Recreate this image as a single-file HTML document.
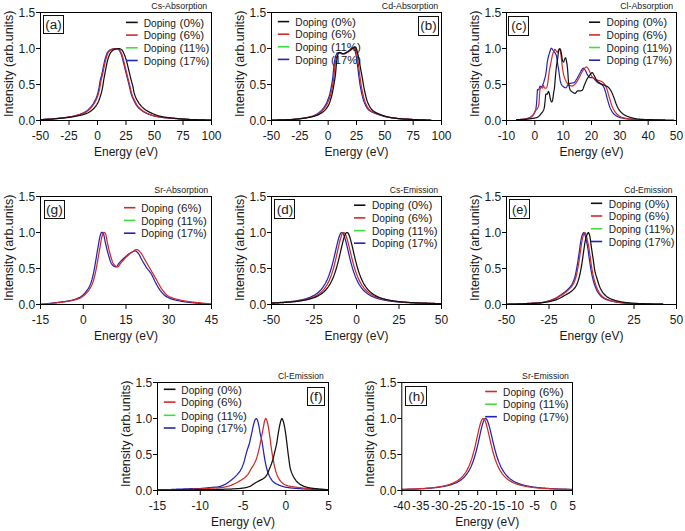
<!DOCTYPE html>
<html><head><meta charset="utf-8"><style>
html,body{margin:0;padding:0;background:#fff;}
svg{display:block;}
text{font-family:"Liberation Sans", sans-serif;fill:#1a1a1a;}
</style></head><body>
<svg width="685" height="531" viewBox="0 0 685 531">
<rect width="685" height="531" fill="#fff"/>
<polyline points="40.50,119.6 41.00,119.6 41.50,119.5 42.00,119.5 42.50,119.5 43.00,119.5 43.50,119.4 44.00,119.4 44.50,119.4 45.00,119.3 45.50,119.3 46.00,119.3 46.50,119.3 47.00,119.2 47.50,119.2 48.00,119.2 48.50,119.2 49.00,119.1 49.50,119.1 50.00,119.1 50.50,119.0 51.00,119.0 51.50,119.0 52.00,118.9 52.50,118.9 53.00,118.8 53.50,118.8 54.00,118.7 54.50,118.7 55.00,118.6 55.50,118.6 56.00,118.5 56.50,118.5 57.00,118.4 57.50,118.4 58.00,118.3 58.50,118.3 59.00,118.2 59.50,118.2 60.00,118.1 60.50,118.1 61.00,118.0 61.50,118.0 62.00,117.9 62.50,117.9 63.00,117.8 63.50,117.7 64.00,117.7 64.50,117.6 65.00,117.6 65.50,117.5 66.00,117.4 66.50,117.4 67.00,117.3 67.50,117.2 68.00,117.1 68.50,117.1 69.00,117.0 69.50,116.9 70.00,116.8 70.50,116.7 71.00,116.6 71.50,116.6 72.00,116.5 72.50,116.4 73.00,116.3 73.50,116.2 74.00,116.0 74.50,115.9 75.00,115.8 75.50,115.7 76.00,115.5 76.50,115.4 77.00,115.3 77.50,115.1 78.00,115.0 78.50,114.8 79.00,114.6 79.50,114.5 80.00,114.3 80.50,114.1 81.00,113.9 81.50,113.7 82.00,113.5 82.50,113.3 83.00,113.1 83.50,112.8 84.00,112.6 84.50,112.3 85.00,112.0 85.50,111.7 86.00,111.4 86.50,111.1 87.00,110.7 87.50,110.3 88.00,109.9 88.50,109.4 89.00,108.9 89.50,108.4 90.00,107.9 90.50,107.4 91.00,106.8 91.50,106.2 92.00,105.5 92.50,104.8 93.00,104.1 93.50,103.3 94.00,102.4 94.50,101.6 95.00,100.6 95.50,99.6 96.00,98.4 96.50,97.2 97.00,95.8 97.50,94.2 98.00,92.3 98.50,90.2 99.00,87.9 99.50,84.9 100.00,81.6 100.50,79.2 101.00,77.5 101.50,75.7 102.00,73.5 102.50,71.0 103.00,68.5 103.50,66.1 104.00,63.8 104.50,61.5 105.00,59.4 105.50,57.6 106.00,56.1 106.50,54.6 107.00,53.4 107.50,52.4 108.00,51.8 108.50,51.2 109.00,50.7 109.50,50.3 110.00,50.0 110.50,49.7 111.00,49.5 111.50,49.4 112.00,49.2 112.50,49.0 113.00,48.9 113.50,48.8 114.00,48.7 114.50,48.7 115.00,48.6 115.50,48.6 116.00,48.6 116.50,48.5 117.00,48.5 117.50,48.5 118.00,48.8 118.50,49.3 119.00,50.0 119.50,50.7 120.00,51.5 120.50,52.6 121.00,53.7 121.50,55.1 122.00,56.7 122.50,58.6 123.00,60.5 123.50,62.5 124.00,64.6 124.50,66.7 125.00,68.8 125.50,70.8 126.00,72.8 126.50,74.8 127.00,76.8 127.50,78.7 128.00,80.7 128.50,82.7 129.00,84.7 129.50,87.0 130.00,89.2 130.50,91.2 131.00,93.2 131.50,94.8 132.00,96.2 132.50,97.4 133.00,98.5 133.50,99.6 134.00,100.7 134.50,101.7 135.00,102.7 135.50,103.6 136.00,104.5 136.50,105.3 137.00,106.0 137.50,106.6 138.00,107.2 138.50,107.7 139.00,108.2 139.50,108.7 140.00,109.1 140.50,109.6 141.00,110.0 141.50,110.3 142.00,110.7 142.50,111.0 143.00,111.4 143.50,111.7 144.00,112.0 144.50,112.3 145.00,112.5 145.50,112.8 146.00,113.0 146.50,113.3 147.00,113.5 147.50,113.7 148.00,113.9 148.50,114.1 149.00,114.3 149.50,114.5 150.00,114.7 150.50,114.9 151.00,115.0 151.50,115.2 152.00,115.4 152.50,115.5 153.00,115.7 153.50,115.8 154.00,115.9 154.50,116.0 155.00,116.2 155.50,116.3 156.00,116.4 156.50,116.5 157.00,116.6 157.50,116.6 158.00,116.7 158.50,116.8 159.00,116.9 159.50,117.0 160.00,117.1 160.50,117.1 161.00,117.2 161.50,117.3 162.00,117.3 162.50,117.4 163.00,117.5 163.50,117.5 164.00,117.6 164.50,117.6 165.00,117.7 165.50,117.7 166.00,117.8 166.50,117.8 167.00,117.9 167.50,117.9 168.00,118.0 168.50,118.0 169.00,118.1 169.50,118.1 170.00,118.1 170.50,118.2 171.00,118.2 171.50,118.2 172.00,118.3 172.50,118.3 173.00,118.3 173.50,118.4 174.00,118.4 174.50,118.4 175.00,118.5 175.50,118.5 176.00,118.6 176.50,118.6 177.00,118.6 177.50,118.7 178.00,118.7 178.50,118.8 179.00,118.8 179.50,118.9 180.00,118.9 180.50,118.9 181.00,119.0 181.50,119.0 182.00,119.0 182.50,119.1 183.00,119.1 183.50,119.1 184.00,119.2 184.50,119.2 185.00,119.2 185.50,119.3 186.00,119.3 186.50,119.3 187.00,119.3 187.50,119.4 188.00,119.4 188.50,119.4 189.00,119.4 189.50,119.5 190.00,119.5 190.50,119.5 191.00,119.5 191.50,119.5 192.00,119.6 192.50,119.6 193.00,119.6 193.50,119.6 194.00,119.6 194.50,119.6 195.00,119.7 195.50,119.7 196.00,119.7 196.50,119.7 197.00,119.7 197.50,119.7 198.00,119.8 198.50,119.8 199.00,119.8 199.50,119.8 200.00,119.8 200.50,119.8 201.00,119.8 201.50,119.9 202.00,119.9 202.50,119.9 203.00,119.9 203.50,119.9 204.00,119.9 204.50,119.9 205.00,119.9 205.50,119.9 206.00,119.9 206.50,120.0 207.00,120.0 207.50,120.0 208.00,120.0 208.50,120.0 209.00,120.0 209.50,120.0 210.00,120.0 210.50,120.0 211.00,120.0" fill="none" stroke="#2424b4" stroke-width="1.25" stroke-linejoin="round"/>
<polyline points="40.70,119.6 41.20,119.6 41.70,119.5 42.20,119.5 42.70,119.5 43.20,119.5 43.70,119.4 44.20,119.4 44.70,119.4 45.20,119.3 45.70,119.3 46.20,119.3 46.70,119.3 47.20,119.2 47.70,119.2 48.20,119.2 48.70,119.2 49.20,119.1 49.70,119.1 50.20,119.1 50.70,119.0 51.20,119.0 51.70,119.0 52.20,118.9 52.70,118.9 53.20,118.8 53.70,118.8 54.20,118.7 54.70,118.7 55.20,118.6 55.70,118.6 56.20,118.5 56.70,118.5 57.20,118.4 57.70,118.4 58.20,118.3 58.70,118.3 59.20,118.2 59.70,118.2 60.20,118.1 60.70,118.1 61.20,118.0 61.70,118.0 62.20,117.9 62.70,117.9 63.20,117.8 63.70,117.7 64.20,117.7 64.70,117.6 65.20,117.6 65.70,117.5 66.20,117.4 66.70,117.4 67.20,117.3 67.70,117.2 68.20,117.1 68.70,117.1 69.20,117.0 69.70,116.9 70.20,116.8 70.70,116.7 71.20,116.6 71.70,116.6 72.20,116.5 72.70,116.4 73.20,116.3 73.70,116.2 74.20,116.0 74.70,115.9 75.20,115.8 75.70,115.7 76.20,115.5 76.70,115.4 77.20,115.2 77.70,115.1 78.20,114.9 78.70,114.8 79.20,114.6 79.70,114.5 80.20,114.3 80.70,114.1 81.20,114.0 81.70,113.8 82.20,113.6 82.70,113.4 83.20,113.2 83.70,113.0 84.20,112.8 84.70,112.6 85.20,112.3 85.70,112.1 86.20,111.8 86.70,111.5 87.20,111.2 87.70,110.8 88.20,110.4 88.70,110.0 89.20,109.5 89.70,109.0 90.20,108.5 90.70,108.0 91.20,107.5 91.70,106.9 92.20,106.3 92.70,105.7 93.20,105.0 93.70,104.2 94.20,103.4 94.70,102.6 95.20,101.7 95.70,100.8 96.20,99.8 96.70,98.7 97.20,97.4 97.70,96.1 98.20,94.5 98.70,92.7 99.20,90.7 99.70,88.4 100.20,85.6 100.70,82.2 101.20,79.6 101.70,77.8 102.20,76.1 102.70,74.0 103.20,71.5 103.70,69.0 104.20,66.6 104.70,64.3 105.20,61.9 105.70,59.8 106.20,58.0 106.70,56.4 107.20,54.9 107.70,53.6 108.20,52.6 108.70,51.9 109.20,51.3 109.70,50.8 110.20,50.4 110.70,50.1 111.20,49.8 111.70,49.6 112.20,49.4 112.70,49.2 113.20,49.1 113.70,48.9 114.20,48.8 114.70,48.8 115.20,48.7 115.70,48.6 116.20,48.6 116.70,48.6 117.20,48.5 117.70,48.5 118.20,48.5 118.70,48.9 119.20,49.4 119.70,50.1 120.20,50.8 120.70,51.7 121.20,52.8 121.70,54.0 122.20,55.4 122.70,57.1 123.20,59.0 123.70,60.9 124.20,62.9 124.70,65.0 125.20,67.1 125.70,69.2 126.20,71.2 126.70,73.2 127.20,75.2 127.70,77.2 128.20,79.1 128.70,81.1 129.20,83.1 129.70,85.2 130.20,87.4 130.70,89.6 131.20,91.6 131.70,93.5 132.20,95.1 132.70,96.4 133.20,97.6 133.70,98.7 134.20,99.8 134.70,100.9 135.20,101.9 135.70,102.9 136.20,103.8 136.70,104.7 137.20,105.4 137.70,106.1 138.20,106.7 138.70,107.3 139.20,107.8 139.70,108.3 140.20,108.8 140.70,109.2 141.20,109.6 141.70,110.0 142.20,110.4 142.70,110.8 143.20,111.1 143.70,111.4 144.20,111.7 144.70,112.0 145.20,112.3 145.70,112.6 146.20,112.8 146.70,113.1 147.20,113.3 147.70,113.5 148.20,113.8 148.70,114.0 149.20,114.2 149.70,114.4 150.20,114.6 150.70,114.8 151.20,115.0 151.70,115.1 152.20,115.3 152.70,115.5 153.20,115.6 153.70,115.8 154.20,115.9 154.70,116.0 155.20,116.2 155.70,116.3 156.20,116.4 156.70,116.5 157.20,116.6 157.70,116.6 158.20,116.7 158.70,116.8 159.20,116.9 159.70,117.0 160.20,117.1 160.70,117.1 161.20,117.2 161.70,117.3 162.20,117.3 162.70,117.4 163.20,117.5 163.70,117.5 164.20,117.6 164.70,117.6 165.20,117.7 165.70,117.7 166.20,117.8 166.70,117.8 167.20,117.9 167.70,117.9 168.20,118.0 168.70,118.0 169.20,118.1 169.70,118.1 170.20,118.1 170.70,118.2 171.20,118.2 171.70,118.2 172.20,118.3 172.70,118.3 173.20,118.3 173.70,118.4 174.20,118.4 174.70,118.4 175.20,118.5 175.70,118.5 176.20,118.6 176.70,118.6 177.20,118.6 177.70,118.7 178.20,118.7 178.70,118.8 179.20,118.8 179.70,118.9 180.20,118.9 180.70,118.9 181.20,119.0 181.70,119.0 182.20,119.0 182.70,119.1 183.20,119.1 183.70,119.1 184.20,119.2 184.70,119.2 185.20,119.2 185.70,119.3 186.20,119.3 186.70,119.3 187.20,119.3 187.70,119.4 188.20,119.4 188.70,119.4 189.20,119.4 189.70,119.5 190.20,119.5 190.70,119.5 191.20,119.5 191.70,119.5 192.20,119.6 192.70,119.6 193.20,119.6 193.70,119.6 194.20,119.6 194.70,119.6 195.20,119.7 195.70,119.7 196.20,119.7 196.70,119.7 197.20,119.7 197.70,119.7 198.20,119.8 198.70,119.8 199.20,119.8 199.70,119.8 200.20,119.8 200.70,119.8 201.20,119.8 201.70,119.9 202.20,119.9 202.70,119.9 203.20,119.9 203.70,119.9 204.20,119.9 204.70,119.9 205.20,119.9 205.70,119.9 206.20,119.9 206.70,120.0 207.20,120.0 207.70,120.0 208.20,120.0 208.70,120.0 209.20,120.0 209.70,120.0 210.20,120.0 210.70,120.0 211.20,120.0" fill="none" stroke="#d02a2a" stroke-width="1.25" stroke-linejoin="round"/>
<polyline points="40.50,119.7 41.00,119.7 41.50,119.6 42.00,119.6 42.50,119.6 43.00,119.6 43.50,119.5 44.00,119.5 44.50,119.5 45.00,119.4 45.50,119.4 46.00,119.4 46.50,119.4 47.00,119.3 47.50,119.3 48.00,119.3 48.50,119.3 49.00,119.2 49.50,119.2 50.00,119.2 50.50,119.1 51.00,119.1 51.50,119.1 52.00,119.0 52.50,119.0 53.00,119.0 53.50,118.9 54.00,118.9 54.50,118.8 55.00,118.8 55.50,118.7 56.00,118.7 56.50,118.7 57.00,118.6 57.50,118.6 58.00,118.5 58.50,118.5 59.00,118.4 59.50,118.4 60.00,118.3 60.50,118.3 61.00,118.2 61.50,118.2 62.00,118.2 62.50,118.1 63.00,118.1 63.50,118.0 64.00,118.0 64.50,117.9 65.00,117.9 65.50,117.8 66.00,117.7 66.50,117.7 67.00,117.6 67.50,117.6 68.00,117.5 68.50,117.4 69.00,117.4 69.50,117.3 70.00,117.2 70.50,117.2 71.00,117.1 71.50,117.0 72.00,116.9 72.50,116.8 73.00,116.8 73.50,116.7 74.00,116.6 74.50,116.5 75.00,116.4 75.50,116.3 76.00,116.2 76.50,116.2 77.00,116.1 77.50,116.0 78.00,115.9 78.50,115.7 79.00,115.6 79.50,115.5 80.00,115.4 80.50,115.3 81.00,115.2 81.50,115.0 82.00,114.9 82.50,114.8 83.00,114.6 83.50,114.5 84.00,114.3 84.50,114.1 85.00,114.0 85.50,113.8 86.00,113.6 86.50,113.4 87.00,113.2 87.50,113.0 88.00,112.8 88.50,112.5 89.00,112.2 89.50,111.9 90.00,111.6 90.50,111.2 91.00,110.9 91.50,110.5 92.00,110.1 92.50,109.6 93.00,109.2 93.50,108.7 94.00,108.2 94.50,107.7 95.00,107.1 95.50,106.5 96.00,105.8 96.50,105.1 97.00,104.3 97.50,103.4 98.00,102.5 98.50,101.4 99.00,100.2 99.50,98.8 100.00,97.4 100.50,95.8 101.00,94.1 101.50,92.3 102.00,90.3 102.50,87.9 103.00,84.8 103.50,81.3 104.00,78.3 104.50,75.7 105.00,73.0 105.50,70.4 106.00,67.9 106.50,65.4 107.00,62.9 107.50,60.6 108.00,58.8 108.50,57.3 109.00,55.9 109.50,54.7 110.00,53.7 110.50,52.9 111.00,52.2 111.50,51.6 112.00,51.0 112.50,50.6 113.00,50.3 113.50,50.0 114.00,49.7 114.50,49.5 115.00,49.3 115.50,49.1 116.00,49.0 116.50,48.9 117.00,48.9 117.50,48.8 118.00,48.8 118.50,48.7 119.00,48.7 119.50,48.7 120.00,48.8 120.50,49.0 121.00,49.3 121.50,49.7 122.00,50.1 122.50,50.7 123.00,51.6 123.50,52.7 124.00,53.8 124.50,54.9 125.00,56.2 125.50,57.6 126.00,59.2 126.50,60.8 127.00,62.7 127.50,64.8 128.00,66.9 128.50,69.0 129.00,71.1 129.50,73.2 130.00,75.3 130.50,77.3 131.00,79.3 131.50,81.3 132.00,83.1 132.50,84.8 133.00,86.9 133.50,89.8 134.00,92.4 134.50,94.1 135.00,95.6 135.50,96.9 136.00,98.0 136.50,99.0 137.00,100.0 137.50,100.9 138.00,101.7 138.50,102.5 139.00,103.3 139.50,104.0 140.00,104.6 140.50,105.2 141.00,105.8 141.50,106.4 142.00,106.9 142.50,107.4 143.00,107.8 143.50,108.3 144.00,108.7 144.50,109.1 145.00,109.5 145.50,109.9 146.00,110.2 146.50,110.5 147.00,110.8 147.50,111.1 148.00,111.4 148.50,111.7 149.00,111.9 149.50,112.2 150.00,112.4 150.50,112.7 151.00,112.9 151.50,113.1 152.00,113.3 152.50,113.5 153.00,113.8 153.50,114.0 154.00,114.2 154.50,114.4 155.00,114.6 155.50,114.8 156.00,115.0 156.50,115.2 157.00,115.3 157.50,115.5 158.00,115.7 158.50,115.8 159.00,116.0 159.50,116.1 160.00,116.2 160.50,116.3 161.00,116.4 161.50,116.6 162.00,116.6 162.50,116.7 163.00,116.8 163.50,116.9 164.00,117.0 164.50,117.1 165.00,117.2 165.50,117.2 166.00,117.3 166.50,117.4 167.00,117.4 167.50,117.5 168.00,117.6 168.50,117.6 169.00,117.7 169.50,117.7 170.00,117.8 170.50,117.8 171.00,117.9 171.50,118.0 172.00,118.0 172.50,118.1 173.00,118.1 173.50,118.2 174.00,118.2 174.50,118.3 175.00,118.3 175.50,118.3 176.00,118.4 176.50,118.4 177.00,118.5 177.50,118.5 178.00,118.6 178.50,118.6 179.00,118.7 179.50,118.7 180.00,118.8 180.50,118.8 181.00,118.8 181.50,118.9 182.00,118.9 182.50,119.0 183.00,119.0 183.50,119.0 184.00,119.1 184.50,119.1 185.00,119.2 185.50,119.2 186.00,119.2 186.50,119.3 187.00,119.3 187.50,119.3 188.00,119.4 188.50,119.4 189.00,119.4 189.50,119.5 190.00,119.5 190.50,119.5 191.00,119.5 191.50,119.5 192.00,119.6 192.50,119.6 193.00,119.6 193.50,119.6 194.00,119.6 194.50,119.7 195.00,119.7 195.50,119.7 196.00,119.7 196.50,119.7 197.00,119.7 197.50,119.8 198.00,119.8 198.50,119.8 199.00,119.8 199.50,119.8 200.00,119.8 200.50,119.8 201.00,119.9 201.50,119.9 202.00,119.9 202.50,119.9 203.00,119.9 203.50,119.9 204.00,119.9 204.50,119.9 205.00,119.9 205.50,120.0 206.00,120.0 206.50,120.0 207.00,120.0 207.50,120.0 208.00,120.0 208.50,120.0 209.00,120.0 209.50,120.0 210.00,120.0 210.50,120.0 211.00,120.0" fill="none" stroke="#111111" stroke-width="1.25" stroke-linejoin="round"/>
<rect x="40.5" y="12.5" width="171.0" height="108.0" fill="none" stroke="#000" stroke-width="1"/>
<line x1="36.0" y1="120.5" x2="40.5" y2="120.5" stroke="#000" stroke-width="1"/>
<text x="35.2" y="125.3" font-size="12" text-anchor="end">0.0</text>
<line x1="36.0" y1="84.5" x2="40.5" y2="84.5" stroke="#000" stroke-width="1"/>
<text x="35.2" y="89.3" font-size="12" text-anchor="end">0.5</text>
<line x1="36.0" y1="48.5" x2="40.5" y2="48.5" stroke="#000" stroke-width="1"/>
<text x="35.2" y="53.3" font-size="12" text-anchor="end">1.0</text>
<line x1="36.0" y1="12.5" x2="40.5" y2="12.5" stroke="#000" stroke-width="1"/>
<text x="35.2" y="17.3" font-size="12" text-anchor="end">1.5</text>
<line x1="40.5" y1="120.5" x2="40.5" y2="125.0" stroke="#000" stroke-width="1"/>
<text x="40.5" y="139.5" font-size="12" text-anchor="middle">-50</text>
<line x1="69.0" y1="120.5" x2="69.0" y2="125.0" stroke="#000" stroke-width="1"/>
<text x="69.0" y="139.5" font-size="12" text-anchor="middle">-25</text>
<line x1="97.5" y1="120.5" x2="97.5" y2="125.0" stroke="#000" stroke-width="1"/>
<text x="97.5" y="139.5" font-size="12" text-anchor="middle">0</text>
<line x1="125.99999999999999" y1="120.5" x2="125.99999999999999" y2="125.0" stroke="#000" stroke-width="1"/>
<text x="126.0" y="139.5" font-size="12" text-anchor="middle">25</text>
<line x1="154.5" y1="120.5" x2="154.5" y2="125.0" stroke="#000" stroke-width="1"/>
<text x="154.5" y="139.5" font-size="12" text-anchor="middle">50</text>
<line x1="183.0" y1="120.5" x2="183.0" y2="125.0" stroke="#000" stroke-width="1"/>
<text x="183.0" y="139.5" font-size="12" text-anchor="middle">75</text>
<line x1="211.49999999999997" y1="120.5" x2="211.49999999999997" y2="125.0" stroke="#000" stroke-width="1"/>
<text x="211.5" y="139.5" font-size="12" text-anchor="middle">100</text>
<text x="126.0" y="155.8" font-size="12" text-anchor="middle" textLength="64" lengthAdjust="spacingAndGlyphs">Energy (eV)</text>
<text x="0" y="0" font-size="12" text-anchor="middle" textLength="106.5" lengthAdjust="spacingAndGlyphs" transform="translate(13.0,63.8) rotate(-90)">Intensity (arb.units)</text>
<text x="151.29999999999998" y="9.1" font-size="9" textLength="56.0" lengthAdjust="spacingAndGlyphs">Cs-Absorption</text>
<rect x="43.5" y="15.5" width="20.0" height="18.0" fill="#fff" stroke="#111" stroke-width="1"/>
<text x="45.25" y="29.3" font-size="12" text-anchor="start" textLength="16.4" lengthAdjust="spacingAndGlyphs">(a)</text>
<line x1="126" y1="22.4" x2="137.7" y2="22.4" stroke="#111111" stroke-width="1.6"/>
<text x="143.7" y="26.6" font-size="10.5" text-anchor="start" textLength="32.2" lengthAdjust="spacingAndGlyphs">Doping</text>
<text x="179.5" y="26.6" font-size="10.5" text-anchor="start" textLength="24.7" lengthAdjust="spacingAndGlyphs">(0%)</text>
<line x1="126" y1="35.1" x2="137.7" y2="35.1" stroke="#d02a2a" stroke-width="1.6"/>
<text x="143.7" y="39.3" font-size="10.5" text-anchor="start" textLength="32.2" lengthAdjust="spacingAndGlyphs">Doping</text>
<text x="179.5" y="39.3" font-size="10.5" text-anchor="start" textLength="24.7" lengthAdjust="spacingAndGlyphs">(6%)</text>
<line x1="126" y1="47.8" x2="137.7" y2="47.8" stroke="#3ee03e" stroke-width="1.6"/>
<text x="143.7" y="52.0" font-size="10.5" text-anchor="start" textLength="32.2" lengthAdjust="spacingAndGlyphs">Doping</text>
<text x="179.5" y="52.0" font-size="10.5" text-anchor="start" textLength="29.8" lengthAdjust="spacingAndGlyphs">(11%)</text>
<line x1="126" y1="60.5" x2="137.7" y2="60.5" stroke="#2424b4" stroke-width="1.6"/>
<text x="143.7" y="64.7" font-size="10.5" text-anchor="start" textLength="32.2" lengthAdjust="spacingAndGlyphs">Doping</text>
<text x="179.5" y="64.7" font-size="10.5" text-anchor="start" textLength="29.8" lengthAdjust="spacingAndGlyphs">(17%)</text>
<polyline points="272.00,120.0 272.50,120.0 273.00,120.0 273.50,120.0 274.00,120.0 274.50,120.0 275.00,120.0 275.50,120.0 276.00,120.0 276.50,120.0 277.00,120.0 277.50,119.9 278.00,119.9 278.50,119.9 279.00,119.9 279.50,119.9 280.00,119.9 280.50,119.9 281.00,119.9 281.50,119.8 282.00,119.8 282.50,119.8 283.00,119.8 283.50,119.8 284.00,119.8 284.50,119.7 285.00,119.7 285.50,119.7 286.00,119.7 286.50,119.7 287.00,119.6 287.50,119.6 288.00,119.6 288.50,119.6 289.00,119.6 289.50,119.5 290.00,119.5 290.50,119.5 291.00,119.5 291.50,119.4 292.00,119.4 292.50,119.4 293.00,119.3 293.50,119.3 294.00,119.3 294.50,119.2 295.00,119.2 295.50,119.1 296.00,119.1 296.50,119.0 297.00,118.9 297.50,118.9 298.00,118.8 298.50,118.8 299.00,118.7 299.50,118.6 300.00,118.6 300.50,118.5 301.00,118.4 301.50,118.4 302.00,118.3 302.50,118.2 303.00,118.2 303.50,118.1 304.00,118.0 304.50,117.9 305.00,117.9 305.50,117.8 306.00,117.7 306.50,117.6 307.00,117.5 307.50,117.4 308.00,117.3 308.50,117.2 309.00,117.1 309.50,116.9 310.00,116.8 310.50,116.7 311.00,116.6 311.50,116.4 312.00,116.3 312.50,116.1 313.00,116.0 313.50,115.8 314.00,115.6 314.50,115.4 315.00,115.1 315.50,114.9 316.00,114.6 316.50,114.3 317.00,114.0 317.50,113.7 318.00,113.3 318.50,113.0 319.00,112.6 319.50,112.2 320.00,111.8 320.50,111.4 321.00,110.9 321.50,110.4 322.00,109.9 322.50,109.3 323.00,108.7 323.50,108.1 324.00,107.4 324.50,106.6 325.00,105.9 325.50,105.0 326.00,104.1 326.50,103.1 327.00,102.0 327.50,100.8 328.00,99.6 328.50,98.2 329.00,96.7 329.50,95.1 330.00,93.2 330.50,90.9 331.00,88.4 331.50,85.8 332.00,82.9 332.50,79.6 333.00,75.8 333.50,70.6 334.00,65.0 334.50,61.6 335.00,59.0 335.50,57.0 336.00,55.4 336.50,54.1 337.00,53.1 337.50,52.8 338.00,52.9 338.50,53.0 339.00,53.1 339.50,53.2 340.00,53.3 340.50,53.5 341.00,53.6 341.50,53.7 342.00,53.8 342.50,53.9 343.00,53.9 343.50,53.8 344.00,53.6 344.50,53.3 345.00,53.1 345.50,52.8 346.00,52.5 346.50,52.2 347.00,52.0 347.50,51.7 348.00,51.3 348.50,51.0 349.00,50.7 349.50,50.3 350.00,50.0 350.50,49.6 351.00,49.1 351.50,48.7 352.00,48.3 352.50,48.0 353.00,47.9 353.50,48.1 354.00,48.5 354.50,49.0 355.00,50.3 355.50,52.5 356.00,55.0 356.50,57.9 357.00,61.3 357.50,65.0 358.00,69.1 358.50,73.4 359.00,77.2 359.50,80.9 360.00,84.3 360.50,87.3 361.00,89.9 361.50,92.3 362.00,94.6 362.50,96.7 363.00,98.6 363.50,100.2 364.00,101.6 364.50,102.9 365.00,104.0 365.50,105.1 366.00,106.1 366.50,107.0 367.00,107.8 367.50,108.6 368.00,109.2 368.50,109.7 369.00,110.2 369.50,110.5 370.00,110.9 370.50,111.2 371.00,111.5 371.50,111.8 372.00,112.0 372.50,112.3 373.00,112.5 373.50,112.7 374.00,112.9 374.50,113.1 375.00,113.3 375.50,113.5 376.00,113.7 376.50,113.9 377.00,114.0 377.50,114.2 378.00,114.4 378.50,114.6 379.00,114.7 379.50,114.9 380.00,115.1 380.50,115.3 381.00,115.4 381.50,115.6 382.00,115.7 382.50,115.9 383.00,116.0 383.50,116.2 384.00,116.3 384.50,116.4 385.00,116.6 385.50,116.7 386.00,116.8 386.50,116.9 387.00,117.0 387.50,117.1 388.00,117.2 388.50,117.3 389.00,117.4 389.50,117.5 390.00,117.6 390.50,117.6 391.00,117.7 391.50,117.8 392.00,117.8 392.50,117.9 393.00,118.0 393.50,118.0 394.00,118.1 394.50,118.2 395.00,118.2 395.50,118.3 396.00,118.3 396.50,118.4 397.00,118.5 397.50,118.5 398.00,118.6 398.50,118.6 399.00,118.7 399.50,118.7 400.00,118.7 400.50,118.8 401.00,118.8 401.50,118.9 402.00,118.9 402.50,118.9 403.00,119.0 403.50,119.0 404.00,119.0 404.50,119.0 405.00,119.1 405.50,119.1 406.00,119.1 406.50,119.2 407.00,119.2 407.50,119.2 408.00,119.2 408.50,119.3 409.00,119.3 409.50,119.3 410.00,119.4 410.50,119.4 411.00,119.4 411.50,119.4 412.00,119.5 412.50,119.5 413.00,119.5 413.50,119.5 414.00,119.6 414.50,119.6 415.00,119.6 415.50,119.6 416.00,119.6 416.50,119.7 417.00,119.7 417.50,119.7 418.00,119.7 418.50,119.7 419.00,119.8 419.50,119.8 420.00,119.8 420.50,119.8 421.00,119.8 421.50,119.9 422.00,119.9 422.50,119.9 423.00,119.9 423.50,119.9 424.00,119.9 424.50,119.9 425.00,119.9 425.50,120.0 426.00,120.0 426.50,120.0 427.00,120.0 427.50,120.0 428.00,120.0 428.50,120.0 429.00,120.0 429.50,120.0 430.00,120.0 430.50,120.0 430.60,120.0" fill="none" stroke="#2424b4" stroke-width="1.25" stroke-linejoin="round"/>
<polyline points="273.00,120.0 273.50,120.0 274.00,120.0 274.50,120.0 275.00,120.0 275.50,120.0 276.00,120.0 276.50,120.0 277.00,120.0 277.50,120.0 278.00,120.0 278.50,119.9 279.00,119.9 279.50,119.9 280.00,119.9 280.50,119.9 281.00,119.9 281.50,119.9 282.00,119.9 282.50,119.8 283.00,119.8 283.50,119.8 284.00,119.8 284.50,119.8 285.00,119.8 285.50,119.7 286.00,119.7 286.50,119.7 287.00,119.7 287.50,119.7 288.00,119.6 288.50,119.6 289.00,119.6 289.50,119.6 290.00,119.6 290.50,119.5 291.00,119.5 291.50,119.5 292.00,119.5 292.50,119.4 293.00,119.4 293.50,119.4 294.00,119.3 294.50,119.3 295.00,119.3 295.50,119.2 296.00,119.2 296.50,119.1 297.00,119.1 297.50,119.0 298.00,118.9 298.50,118.9 299.00,118.8 299.50,118.8 300.00,118.7 300.50,118.6 301.00,118.6 301.50,118.5 302.00,118.4 302.50,118.4 303.00,118.3 303.50,118.2 304.00,118.2 304.50,118.1 305.00,118.0 305.50,117.9 306.00,117.9 306.50,117.8 307.00,117.7 307.50,117.6 308.00,117.5 308.50,117.4 309.00,117.3 309.50,117.2 310.00,117.1 310.50,116.9 311.00,116.8 311.50,116.7 312.00,116.6 312.50,116.4 313.00,116.3 313.50,116.1 314.00,116.0 314.50,115.8 315.00,115.6 315.50,115.4 316.00,115.1 316.50,114.9 317.00,114.6 317.50,114.3 318.00,114.0 318.50,113.7 319.00,113.3 319.50,113.0 320.00,112.6 320.50,112.2 321.00,111.8 321.50,111.4 322.00,110.9 322.50,110.4 323.00,109.9 323.50,109.3 324.00,108.7 324.50,108.1 325.00,107.4 325.50,106.6 326.00,105.9 326.50,105.0 327.00,104.1 327.50,103.1 328.00,102.0 328.50,100.8 329.00,99.6 329.50,98.2 330.00,96.7 330.50,95.1 331.00,93.2 331.50,90.9 332.00,88.4 332.50,85.8 333.00,82.9 333.50,79.6 334.00,75.8 334.50,70.6 335.00,65.0 335.50,61.6 336.00,59.0 336.50,57.0 337.00,55.4 337.50,54.1 338.00,53.1 338.50,52.8 339.00,52.9 339.50,53.0 340.00,53.1 340.50,53.2 341.00,53.3 341.50,53.5 342.00,53.6 342.50,53.7 343.00,53.8 343.50,53.9 344.00,53.9 344.50,53.8 345.00,53.6 345.50,53.3 346.00,53.1 346.50,52.8 347.00,52.5 347.50,52.2 348.00,52.0 348.50,51.7 349.00,51.3 349.50,51.0 350.00,50.7 350.50,50.3 351.00,50.0 351.50,49.6 352.00,49.1 352.50,48.7 353.00,48.3 353.50,48.0 354.00,47.9 354.50,48.1 355.00,48.5 355.50,49.0 356.00,50.3 356.50,52.5 357.00,55.0 357.50,57.9 358.00,61.3 358.50,65.0 359.00,69.1 359.50,73.4 360.00,77.2 360.50,80.9 361.00,84.3 361.50,87.3 362.00,89.9 362.50,92.3 363.00,94.6 363.50,96.7 364.00,98.6 364.50,100.2 365.00,101.6 365.50,102.9 366.00,104.0 366.50,105.1 367.00,106.1 367.50,107.0 368.00,107.8 368.50,108.6 369.00,109.2 369.50,109.7 370.00,110.2 370.50,110.5 371.00,110.9 371.50,111.2 372.00,111.5 372.50,111.8 373.00,112.0 373.50,112.3 374.00,112.5 374.50,112.7 375.00,112.9 375.50,113.1 376.00,113.3 376.50,113.5 377.00,113.7 377.50,113.9 378.00,114.0 378.50,114.2 379.00,114.4 379.50,114.6 380.00,114.7 380.50,114.9 381.00,115.1 381.50,115.3 382.00,115.4 382.50,115.6 383.00,115.7 383.50,115.9 384.00,116.0 384.50,116.2 385.00,116.3 385.50,116.4 386.00,116.6 386.50,116.7 387.00,116.8 387.50,116.9 388.00,117.0 388.50,117.1 389.00,117.2 389.50,117.3 390.00,117.4 390.50,117.5 391.00,117.6 391.50,117.6 392.00,117.7 392.50,117.8 393.00,117.8 393.50,117.9 394.00,118.0 394.50,118.0 395.00,118.1 395.50,118.2 396.00,118.2 396.50,118.3 397.00,118.3 397.50,118.4 398.00,118.5 398.50,118.5 399.00,118.6 399.50,118.6 400.00,118.7 400.50,118.7 401.00,118.7 401.50,118.8 402.00,118.8 402.50,118.9 403.00,118.9 403.50,118.9 404.00,119.0 404.50,119.0 405.00,119.0 405.50,119.0 406.00,119.1 406.50,119.1 407.00,119.1 407.50,119.2 408.00,119.2 408.50,119.2 409.00,119.2 409.50,119.3 410.00,119.3 410.50,119.3 411.00,119.4 411.50,119.4 412.00,119.4 412.50,119.4 413.00,119.5 413.50,119.5 414.00,119.5 414.50,119.5 415.00,119.6 415.50,119.6 416.00,119.6 416.50,119.6 417.00,119.6 417.50,119.7 418.00,119.7 418.50,119.7 419.00,119.7 419.50,119.7 420.00,119.8 420.50,119.8 421.00,119.8 421.50,119.8 422.00,119.8 422.50,119.9 423.00,119.9 423.50,119.9 424.00,119.9 424.50,119.9 425.00,119.9 425.50,119.9 426.00,119.9 426.50,120.0 427.00,120.0 427.50,120.0 428.00,120.0 428.50,120.0 429.00,120.0 429.50,120.0 430.00,120.0 430.50,120.0 431.00,120.0 431.50,120.0 431.60,120.0" fill="none" stroke="#d02a2a" stroke-width="1.25" stroke-linejoin="round"/>
<polyline points="272.00,120.0 272.50,120.0 273.00,120.0 273.50,120.0 274.00,120.0 274.50,120.0 275.00,120.0 275.50,120.0 276.00,120.0 276.50,120.0 277.00,120.0 277.50,120.0 278.00,119.9 278.50,119.9 279.00,119.9 279.50,119.9 280.00,119.9 280.50,119.9 281.00,119.9 281.50,119.9 282.00,119.9 282.50,119.9 283.00,119.8 283.50,119.8 284.00,119.8 284.50,119.8 285.00,119.8 285.50,119.8 286.00,119.8 286.50,119.7 287.00,119.7 287.50,119.7 288.00,119.7 288.50,119.7 289.00,119.7 289.50,119.6 290.00,119.6 290.50,119.6 291.00,119.6 291.50,119.6 292.00,119.5 292.50,119.5 293.00,119.5 293.50,119.4 294.00,119.4 294.50,119.3 295.00,119.3 295.50,119.3 296.00,119.2 296.50,119.2 297.00,119.1 297.50,119.1 298.00,119.0 298.50,118.9 299.00,118.9 299.50,118.8 300.00,118.8 300.50,118.7 301.00,118.7 301.50,118.6 302.00,118.5 302.50,118.5 303.00,118.4 303.50,118.3 304.00,118.3 304.50,118.2 305.00,118.1 305.50,118.0 306.00,118.0 306.50,117.9 307.00,117.8 307.50,117.7 308.00,117.6 308.50,117.5 309.00,117.4 309.50,117.3 310.00,117.2 310.50,117.1 311.00,117.0 311.50,116.9 312.00,116.8 312.50,116.6 313.00,116.5 313.50,116.4 314.00,116.3 314.50,116.1 315.00,116.0 315.50,115.8 316.00,115.7 316.50,115.5 317.00,115.3 317.50,115.1 318.00,114.8 318.50,114.6 319.00,114.4 319.50,114.1 320.00,113.8 320.50,113.5 321.00,113.2 321.50,112.9 322.00,112.6 322.50,112.2 323.00,111.9 323.50,111.5 324.00,111.1 324.50,110.6 325.00,110.1 325.50,109.6 326.00,109.0 326.50,108.3 327.00,107.6 327.50,106.9 328.00,106.0 328.50,105.1 329.00,104.1 329.50,102.9 330.00,101.5 330.50,99.9 331.00,98.3 331.50,96.5 332.00,94.6 332.50,92.3 333.00,89.7 333.50,86.9 334.00,84.1 334.50,81.2 335.00,78.0 335.50,74.1 336.00,68.4 336.50,62.8 337.00,58.7 337.50,56.1 338.00,54.3 338.50,52.9 339.00,52.4 339.50,52.5 340.00,52.6 340.50,52.7 341.00,52.9 341.50,53.1 342.00,53.3 342.50,53.5 343.00,53.6 343.50,53.7 344.00,53.7 344.50,53.5 345.00,53.3 345.50,53.1 346.00,52.8 346.50,52.6 347.00,52.3 347.50,52.0 348.00,51.7 348.50,51.3 349.00,51.0 349.50,50.6 350.00,50.2 350.50,49.8 351.00,49.5 351.50,49.1 352.00,48.7 352.50,48.3 353.00,47.9 353.50,47.6 354.00,47.3 354.50,47.2 355.00,47.3 355.50,47.6 356.00,48.2 356.50,49.0 357.00,50.4 357.50,52.7 358.00,55.0 358.50,57.2 359.00,59.5 359.50,62.0 360.00,65.0 360.50,68.2 361.00,71.1 361.50,73.5 362.00,76.1 362.50,79.1 363.00,82.2 363.50,85.2 364.00,87.9 364.50,90.3 365.00,92.6 365.50,94.9 366.00,97.0 366.50,98.9 367.00,100.5 367.50,101.9 368.00,103.1 368.50,104.2 369.00,105.3 369.50,106.2 370.00,107.1 370.50,107.9 371.00,108.6 371.50,109.3 372.00,109.8 372.50,110.3 373.00,110.7 373.50,111.1 374.00,111.4 374.50,111.8 375.00,112.1 375.50,112.4 376.00,112.7 376.50,112.9 377.00,113.2 377.50,113.4 378.00,113.6 378.50,113.8 379.00,114.0 379.50,114.2 380.00,114.4 380.50,114.6 381.00,114.8 381.50,115.0 382.00,115.2 382.50,115.4 383.00,115.6 383.50,115.7 384.00,115.9 384.50,116.1 385.00,116.2 385.50,116.4 386.00,116.5 386.50,116.6 387.00,116.8 387.50,116.9 388.00,117.0 388.50,117.1 389.00,117.2 389.50,117.3 390.00,117.4 390.50,117.5 391.00,117.6 391.50,117.6 392.00,117.7 392.50,117.8 393.00,117.9 393.50,117.9 394.00,118.0 394.50,118.1 395.00,118.1 395.50,118.2 396.00,118.3 396.50,118.3 397.00,118.4 397.50,118.4 398.00,118.5 398.50,118.6 399.00,118.6 399.50,118.7 400.00,118.7 400.50,118.7 401.00,118.8 401.50,118.8 402.00,118.9 402.50,118.9 403.00,118.9 403.50,119.0 404.00,119.0 404.50,119.0 405.00,119.1 405.50,119.1 406.00,119.1 406.50,119.1 407.00,119.2 407.50,119.2 408.00,119.2 408.50,119.3 409.00,119.3 409.50,119.3 410.00,119.3 410.50,119.4 411.00,119.4 411.50,119.4 412.00,119.5 412.50,119.5 413.00,119.5 413.50,119.5 414.00,119.6 414.50,119.6 415.00,119.6 415.50,119.6 416.00,119.6 416.50,119.7 417.00,119.7 417.50,119.7 418.00,119.7 418.50,119.7 419.00,119.8 419.50,119.8 420.00,119.8 420.50,119.8 421.00,119.8 421.50,119.9 422.00,119.9 422.50,119.9 423.00,119.9 423.50,119.9 424.00,119.9 424.50,119.9 425.00,119.9 425.50,120.0 426.00,120.0 426.50,120.0 427.00,120.0 427.50,120.0 428.00,120.0 428.50,120.0 429.00,120.0 429.50,120.0 430.00,120.0 430.50,120.0 430.60,120.0" fill="none" stroke="#111111" stroke-width="1.25" stroke-linejoin="round"/>
<rect x="271.5" y="12.5" width="170.0" height="108.0" fill="none" stroke="#000" stroke-width="1"/>
<line x1="267.0" y1="120.5" x2="271.5" y2="120.5" stroke="#000" stroke-width="1"/>
<text x="266.2" y="125.3" font-size="12" text-anchor="end">0.0</text>
<line x1="267.0" y1="84.5" x2="271.5" y2="84.5" stroke="#000" stroke-width="1"/>
<text x="266.2" y="89.3" font-size="12" text-anchor="end">0.5</text>
<line x1="267.0" y1="48.5" x2="271.5" y2="48.5" stroke="#000" stroke-width="1"/>
<text x="266.2" y="53.3" font-size="12" text-anchor="end">1.0</text>
<line x1="267.0" y1="12.5" x2="271.5" y2="12.5" stroke="#000" stroke-width="1"/>
<text x="266.2" y="17.3" font-size="12" text-anchor="end">1.5</text>
<line x1="271.5" y1="120.5" x2="271.5" y2="125.0" stroke="#000" stroke-width="1"/>
<text x="271.5" y="139.5" font-size="12" text-anchor="middle">-50</text>
<line x1="299.8333333333333" y1="120.5" x2="299.8333333333333" y2="125.0" stroke="#000" stroke-width="1"/>
<text x="299.83" y="139.5" font-size="12" text-anchor="middle">-25</text>
<line x1="328.1666666666667" y1="120.5" x2="328.1666666666667" y2="125.0" stroke="#000" stroke-width="1"/>
<text x="328.17" y="139.5" font-size="12" text-anchor="middle">0</text>
<line x1="356.5" y1="120.5" x2="356.5" y2="125.0" stroke="#000" stroke-width="1"/>
<text x="356.5" y="139.5" font-size="12" text-anchor="middle">25</text>
<line x1="384.8333333333333" y1="120.5" x2="384.8333333333333" y2="125.0" stroke="#000" stroke-width="1"/>
<text x="384.83" y="139.5" font-size="12" text-anchor="middle">50</text>
<line x1="413.16666666666663" y1="120.5" x2="413.16666666666663" y2="125.0" stroke="#000" stroke-width="1"/>
<text x="413.17" y="139.5" font-size="12" text-anchor="middle">75</text>
<line x1="441.5" y1="120.5" x2="441.5" y2="125.0" stroke="#000" stroke-width="1"/>
<text x="441.5" y="139.5" font-size="12" text-anchor="middle">100</text>
<text x="356.5" y="155.8" font-size="12" text-anchor="middle" textLength="64" lengthAdjust="spacingAndGlyphs">Energy (eV)</text>
<text x="0" y="0" font-size="12" text-anchor="middle" textLength="106.5" lengthAdjust="spacingAndGlyphs" transform="translate(244.0,63.8) rotate(-90)">Intensity (arb.units)</text>
<text x="381.8" y="9.1" font-size="9" textLength="56.4" lengthAdjust="spacingAndGlyphs">Cd-Absorption</text>
<rect x="418.5" y="16.5" width="20.0" height="19.0" fill="#fff" stroke="#111" stroke-width="1"/>
<text x="420.35" y="30.1" font-size="12" text-anchor="start" textLength="16.3" lengthAdjust="spacingAndGlyphs">(b)</text>
<line x1="277.8" y1="21.6" x2="289.2" y2="21.6" stroke="#111111" stroke-width="1.6"/>
<text x="295.3" y="25.8" font-size="10.5" text-anchor="start" textLength="32.2" lengthAdjust="spacingAndGlyphs">Doping</text>
<text x="331.1" y="25.8" font-size="10.5" text-anchor="start" textLength="24.7" lengthAdjust="spacingAndGlyphs">(0%)</text>
<line x1="277.8" y1="34.2" x2="289.2" y2="34.2" stroke="#d02a2a" stroke-width="1.6"/>
<text x="295.3" y="38.4" font-size="10.5" text-anchor="start" textLength="32.2" lengthAdjust="spacingAndGlyphs">Doping</text>
<text x="331.1" y="38.4" font-size="10.5" text-anchor="start" textLength="24.7" lengthAdjust="spacingAndGlyphs">(6%)</text>
<line x1="277.8" y1="46.8" x2="289.2" y2="46.8" stroke="#3ee03e" stroke-width="1.6"/>
<text x="295.3" y="51.0" font-size="10.5" text-anchor="start" textLength="32.2" lengthAdjust="spacingAndGlyphs">Doping</text>
<text x="331.1" y="51.0" font-size="10.5" text-anchor="start" textLength="29.8" lengthAdjust="spacingAndGlyphs">(11%)</text>
<line x1="277.8" y1="59.4" x2="289.2" y2="59.4" stroke="#2424b4" stroke-width="1.6"/>
<text x="295.3" y="63.6" font-size="10.5" text-anchor="start" textLength="32.2" lengthAdjust="spacingAndGlyphs">Doping</text>
<text x="331.1" y="63.6" font-size="10.5" text-anchor="start" textLength="29.8" lengthAdjust="spacingAndGlyphs">(17%)</text>
<polyline points="516.20,119.6 516.45,119.6 516.70,119.6 516.95,119.6 517.20,119.6 517.45,119.6 517.70,119.6 517.95,119.6 518.20,119.6 518.45,119.6 518.70,119.5 518.95,119.5 519.20,119.5 519.45,119.5 519.70,119.5 519.95,119.5 520.20,119.5 520.45,119.4 520.70,119.4 520.95,119.4 521.20,119.4 521.45,119.4 521.70,119.3 521.95,119.3 522.20,119.3 522.45,119.3 522.70,119.3 522.95,119.2 523.20,119.2 523.45,119.2 523.70,119.2 523.95,119.1 524.20,119.1 524.45,119.1 524.70,119.0 524.95,119.0 525.20,119.0 525.45,118.9 525.70,118.9 525.95,118.8 526.20,118.8 526.45,118.7 526.70,118.6 526.95,118.6 527.20,118.5 527.45,118.4 527.70,118.4 527.95,118.3 528.20,118.2 528.45,118.1 528.70,118.0 528.95,117.9 529.20,117.8 529.45,117.7 529.70,117.6 529.95,117.5 530.20,117.4 530.45,117.2 530.70,117.1 530.95,116.9 531.20,116.7 531.45,116.5 531.70,116.3 531.95,116.1 532.20,115.9 532.45,115.6 532.70,115.4 532.95,115.1 533.20,114.8 533.45,114.5 533.70,114.1 533.95,113.8 534.20,113.3 534.45,112.9 534.70,112.5 534.95,112.0 535.20,111.4 535.45,110.7 535.70,109.8 535.95,108.5 536.20,106.7 536.45,104.5 536.70,101.4 536.95,97.3 537.20,93.3 537.45,89.7 537.70,89.5 537.95,89.6 538.20,89.7 538.45,89.8 538.70,89.7 538.95,89.2 539.20,88.4 539.45,87.6 539.70,86.9 539.95,86.3 540.20,86.1 540.45,86.3 540.70,86.6 540.95,86.9 541.20,87.0 541.45,86.8 541.70,86.6 541.95,86.2 542.20,85.8 542.45,85.3 542.70,84.7 542.95,84.2 543.20,83.7 543.45,83.0 543.70,82.3 543.95,81.5 544.20,80.6 544.45,79.8 544.70,78.9 544.95,78.0 545.20,76.9 545.45,75.8 545.70,74.6 545.95,73.1 546.20,71.4 546.45,69.6 546.70,67.4 546.95,65.0 547.20,63.0 547.45,61.4 547.70,59.9 547.95,58.6 548.20,57.5 548.45,56.5 548.70,55.6 548.95,54.7 549.20,53.9 549.45,53.1 549.70,52.3 549.95,51.5 550.20,50.7 550.45,49.9 550.70,49.2 550.95,48.7 551.20,48.4 551.45,48.3 551.70,48.4 551.95,48.7 552.20,49.0 552.45,49.4 552.70,49.8 552.95,50.1 553.20,50.4 553.45,50.6 553.70,50.9 553.95,51.3 554.20,51.6 554.45,52.0 554.70,52.3 554.95,52.7 555.20,53.1 555.45,53.5 555.70,54.0 555.95,54.5 556.20,55.2 556.45,55.9 556.70,57.1 556.95,59.1 557.20,61.1 557.45,62.7 557.70,64.1 557.95,65.5 558.20,66.8 558.45,68.3 558.70,70.0 558.95,71.9 559.20,73.8 559.45,75.7 559.70,77.4 559.95,79.1 560.20,80.7 560.45,81.8 560.70,82.6 560.95,83.3 561.20,83.9 561.45,84.4 561.70,84.9 561.95,85.2 562.20,85.6 562.45,85.9 562.70,86.1 562.95,86.3 563.20,86.5 563.45,86.7 563.70,86.9 563.95,87.1 564.20,87.3 564.45,87.4 564.70,87.6 564.95,87.7 565.20,87.7 565.45,87.8 565.70,87.8 565.95,87.7 566.20,87.5 566.45,87.2 566.70,86.9 566.95,86.5 567.20,86.0 567.45,85.6 567.70,85.2 567.95,84.9 568.20,84.6 568.45,84.4 568.70,84.2 568.95,84.0 569.20,83.8 569.45,83.7 569.70,83.6 569.95,83.5 570.20,83.4 570.45,83.3 570.70,83.3 570.95,83.2 571.20,83.2 571.45,83.1 571.70,83.1 571.95,83.1 572.20,83.0 572.45,83.0 572.70,83.0 572.95,82.9 573.20,82.9 573.45,82.8 573.70,82.8 573.95,82.7 574.20,82.5 574.45,82.3 574.70,82.1 574.95,81.8 575.20,81.4 575.45,81.1 575.70,80.7 575.95,80.3 576.20,79.9 576.45,79.5 576.70,79.1 576.95,78.7 577.20,78.3 577.45,77.8 577.70,77.3 577.95,76.9 578.20,76.4 578.45,75.9 578.70,75.4 578.95,74.9 579.20,74.4 579.45,73.9 579.70,73.5 579.95,73.0 580.20,72.6 580.45,72.2 580.70,71.7 580.95,71.3 581.20,70.8 581.45,70.3 581.70,69.9 581.95,69.4 582.20,69.1 582.45,68.7 582.70,68.5 582.95,68.3 583.20,68.2 583.45,68.2 583.70,68.3 583.95,68.5 584.20,68.8 584.45,69.1 584.70,69.4 584.95,69.8 585.20,70.1 585.45,70.5 585.70,70.9 585.95,71.5 586.20,72.1 586.45,72.7 586.70,73.3 586.95,73.8 587.20,74.4 587.45,74.8 587.70,75.2 587.95,75.5 588.20,75.9 588.45,76.2 588.70,76.5 588.95,76.8 589.20,77.1 589.45,77.3 589.70,77.5 589.95,77.6 590.20,77.7 590.45,77.7 590.70,77.7 590.95,77.7 591.20,77.7 591.45,77.7 591.70,77.7 591.95,77.7 592.20,77.7 592.45,77.7 592.70,77.7 592.95,77.7 593.20,77.8 593.45,78.0 593.70,78.2 593.95,78.5 594.20,78.8 594.45,79.2 594.70,79.5 594.95,79.8 595.20,80.1 595.45,80.4 595.70,80.6 595.95,80.9 596.20,81.2 596.45,81.4 596.70,81.7 596.95,82.0 597.20,82.2 597.45,82.4 597.70,82.6 597.95,82.8 598.20,82.9 598.45,83.1 598.70,83.2 598.95,83.3 599.20,83.4 599.45,83.5 599.70,83.6 599.95,83.7 600.20,83.8 600.45,83.9 600.70,84.0 600.95,84.2 601.20,84.3 601.45,84.5 601.70,84.6 601.95,84.8 602.20,85.0 602.45,85.3 602.70,85.5 602.95,85.8 603.20,86.1 603.45,86.4 603.70,86.8 603.95,87.4 604.20,88.0 604.45,88.7 604.70,89.4 604.95,90.2 605.20,91.0 605.45,91.8 605.70,92.7 605.95,93.6 606.20,94.5 606.45,95.5 606.70,96.5 606.95,97.5 607.20,98.4 607.45,99.3 607.70,100.2 607.95,101.1 608.20,102.0 608.45,102.8 608.70,103.7 608.95,104.5 609.20,105.3 609.45,106.0 609.70,106.7 609.95,107.4 610.20,108.0 610.45,108.5 610.70,109.1 610.95,109.6 611.20,110.1 611.45,110.6 611.70,111.1 611.95,111.5 612.20,111.9 612.45,112.3 612.70,112.6 612.95,112.9 613.20,113.2 613.45,113.5 613.70,113.8 613.95,114.0 614.20,114.3 614.45,114.5 614.70,114.7 614.95,114.9 615.20,115.1 615.45,115.3 615.70,115.5 615.95,115.7 616.20,115.8 616.45,116.0 616.70,116.1 616.95,116.2 617.20,116.4 617.45,116.5 617.70,116.6 617.95,116.8 618.20,116.9 618.45,117.0 618.70,117.1 618.95,117.2 619.20,117.3 619.45,117.3 619.70,117.4 619.95,117.5 620.20,117.6 620.45,117.6 620.70,117.7 620.95,117.7 621.20,117.8 621.45,117.9 621.70,117.9 621.95,118.0 622.20,118.0 622.45,118.1 622.70,118.1 622.95,118.2 623.20,118.2 623.45,118.3 623.70,118.3 623.95,118.4 624.20,118.4 624.45,118.5 624.70,118.5 624.95,118.6 625.20,118.6 625.45,118.7 625.70,118.7 625.95,118.7 626.20,118.8 626.45,118.8 626.70,118.8 626.95,118.9 627.20,118.9 627.45,118.9 627.70,119.0 627.95,119.0 628.20,119.0 628.45,119.0 628.70,119.1 628.95,119.1 629.20,119.1 629.45,119.1 629.70,119.1 629.95,119.2 630.20,119.2 630.45,119.2 630.70,119.2 630.95,119.2 631.20,119.3 631.45,119.3 631.70,119.3 631.95,119.3 632.20,119.3 632.45,119.3 632.70,119.3 632.95,119.4 633.20,119.4 633.45,119.4 633.70,119.4 633.95,119.4 634.20,119.4 634.45,119.5 634.70,119.5 634.95,119.5 635.20,119.5 635.45,119.5 635.70,119.5 635.95,119.5 636.20,119.5 636.45,119.5 636.70,119.6 636.95,119.6 637.20,119.6 637.45,119.6 637.70,119.6 637.95,119.6 638.20,119.6 638.45,119.6 638.70,119.6 638.95,119.6 639.20,119.7 639.45,119.7 639.70,119.7 639.95,119.7 640.20,119.7 640.45,119.7 640.70,119.7 640.95,119.7 641.20,119.7 641.45,119.7 641.70,119.7 641.95,119.7 642.20,119.7 642.45,119.7 642.70,119.7 642.95,119.8 643.20,119.8 643.45,119.8 643.70,119.8 643.95,119.8 644.20,119.8 644.45,119.8 644.70,119.8 644.95,119.8 645.20,119.8 645.45,119.8 645.70,119.8 645.95,119.8 646.20,119.8 646.45,119.8 646.70,119.8 646.95,119.8 647.20,119.8 647.45,119.9 647.70,119.9 647.95,119.9 648.20,119.9 648.45,119.9 648.70,119.9 648.95,119.9 649.20,119.9 649.45,119.9 649.70,119.9 649.95,119.9 650.20,119.9 650.45,119.9 650.70,119.9 650.95,119.9 651.20,119.9 651.45,119.9 651.70,119.9 651.95,119.9 652.20,119.9 652.45,119.9 652.70,119.9 652.95,119.9 653.20,120.0 653.45,120.0 653.70,120.0 653.95,120.0 654.20,120.0 654.45,120.0 654.70,120.0 654.95,120.0 655.20,120.0 655.45,120.0 655.70,120.0 655.95,120.0 656.20,120.0 656.45,120.0 656.70,120.0 656.95,120.0 657.20,120.0 657.45,120.0 657.70,120.0 657.95,120.0 658.20,120.0 658.45,120.0 658.70,120.0 658.95,120.0 659.20,120.0 659.45,120.0 659.70,120.0 659.95,120.0 660.00,120.0" fill="none" stroke="#2424b4" stroke-width="1.2" stroke-linejoin="round"/>
<polyline points="516.20,119.6 516.45,119.6 516.70,119.6 516.95,119.6 517.20,119.6 517.45,119.6 517.70,119.6 517.95,119.6 518.20,119.6 518.45,119.6 518.70,119.6 518.95,119.5 519.20,119.5 519.45,119.5 519.70,119.5 519.95,119.5 520.20,119.5 520.45,119.5 520.70,119.5 520.95,119.4 521.20,119.4 521.45,119.4 521.70,119.4 521.95,119.4 522.20,119.4 522.45,119.3 522.70,119.3 522.95,119.3 523.20,119.3 523.45,119.3 523.70,119.2 523.95,119.2 524.20,119.2 524.45,119.2 524.70,119.1 524.95,119.1 525.20,119.1 525.45,119.0 525.70,119.0 525.95,118.9 526.20,118.9 526.45,118.8 526.70,118.8 526.95,118.7 527.20,118.7 527.45,118.6 527.70,118.5 527.95,118.4 528.20,118.4 528.45,118.3 528.70,118.2 528.95,118.1 529.20,118.0 529.45,117.9 529.70,117.8 529.95,117.7 530.20,117.6 530.45,117.5 530.70,117.4 530.95,117.2 531.20,117.0 531.45,116.9 531.70,116.7 531.95,116.5 532.20,116.3 532.45,116.0 532.70,115.8 532.95,115.4 533.20,115.0 533.45,114.5 533.70,114.0 533.95,113.4 534.20,112.9 534.45,112.3 534.70,111.8 534.95,111.4 535.20,111.0 535.45,110.7 535.70,110.4 535.95,110.2 536.20,109.9 536.45,109.7 536.70,109.4 536.95,109.1 537.20,108.7 537.45,108.4 537.70,108.1 537.95,107.6 538.20,107.1 538.45,106.5 538.70,105.5 538.95,103.6 539.20,100.5 539.45,95.4 539.70,92.0 539.95,89.7 540.20,88.6 540.45,88.2 540.70,88.0 540.95,87.7 541.20,87.6 541.45,87.5 541.70,87.5 541.95,87.7 542.20,87.9 542.45,88.1 542.70,87.7 542.95,86.4 543.20,85.4 543.45,85.4 543.70,85.9 543.95,86.6 544.20,87.3 544.45,87.9 544.70,88.1 544.95,88.1 545.20,88.1 545.45,88.1 545.70,88.1 545.95,88.1 546.20,88.1 546.45,87.9 546.70,87.4 546.95,86.8 547.20,86.1 547.45,85.1 547.70,83.4 547.95,81.4 548.20,79.5 548.45,77.5 548.70,75.6 548.95,73.8 549.20,71.9 549.45,70.3 549.70,68.9 549.95,67.6 550.20,66.4 550.45,65.2 550.70,64.0 550.95,62.7 551.20,61.4 551.45,60.0 551.70,58.7 551.95,57.4 552.20,56.2 552.45,55.2 552.70,54.3 552.95,53.5 553.20,52.8 553.45,52.1 553.70,51.5 553.95,50.9 554.20,50.3 554.45,49.7 554.70,49.3 554.95,49.3 555.20,49.6 555.45,49.9 555.70,50.2 555.95,50.6 556.20,50.9 556.45,51.3 556.70,51.7 556.95,52.0 557.20,52.2 557.45,52.1 557.70,51.8 557.95,51.4 558.20,50.8 558.45,50.3 558.70,49.9 558.95,49.6 559.20,49.3 559.45,49.0 559.70,48.8 559.95,48.8 560.20,49.8 560.45,51.5 560.70,53.3 560.95,55.0 561.20,56.9 561.45,58.9 561.70,61.0 561.95,63.4 562.20,65.7 562.45,67.8 562.70,69.5 562.95,71.1 563.20,72.5 563.45,73.8 563.70,74.8 563.95,75.8 564.20,76.7 564.45,77.5 564.70,78.2 564.95,78.9 565.20,79.5 565.45,80.0 565.70,80.6 565.95,81.1 566.20,81.6 566.45,82.0 566.70,82.4 566.95,82.8 567.20,83.2 567.45,83.5 567.70,83.8 567.95,84.2 568.20,84.5 568.45,84.8 568.70,85.1 568.95,85.3 569.20,85.5 569.45,85.6 569.70,85.6 569.95,85.7 570.20,85.7 570.45,85.8 570.70,85.8 570.95,85.8 571.20,85.8 571.45,85.9 571.70,85.9 571.95,85.9 572.20,85.9 572.45,85.9 572.70,85.9 572.95,85.8 573.20,85.7 573.45,85.6 573.70,85.4 573.95,85.2 574.20,84.9 574.45,84.7 574.70,84.4 574.95,84.2 575.20,83.9 575.45,83.6 575.70,83.3 575.95,83.0 576.20,82.7 576.45,82.3 576.70,82.0 576.95,81.6 577.20,81.2 577.45,80.8 577.70,80.3 577.95,79.9 578.20,79.5 578.45,79.1 578.70,78.6 578.95,78.2 579.20,77.8 579.45,77.3 579.70,76.8 579.95,76.2 580.20,75.7 580.45,75.1 580.70,74.6 580.95,74.0 581.20,73.5 581.45,73.0 581.70,72.5 581.95,72.0 582.20,71.6 582.45,71.2 582.70,70.8 582.95,70.5 583.20,70.1 583.45,69.8 583.70,69.4 583.95,69.1 584.20,68.8 584.45,68.4 584.70,68.2 584.95,67.9 585.20,67.6 585.45,67.4 585.70,67.3 585.95,67.1 586.20,67.0 586.45,67.0 586.70,67.0 586.95,67.2 587.20,67.4 587.45,67.6 587.70,68.0 587.95,68.4 588.20,68.8 588.45,69.2 588.70,69.6 588.95,70.0 589.20,70.5 589.45,71.0 589.70,71.6 589.95,72.2 590.20,72.9 590.45,73.5 590.70,74.2 590.95,74.8 591.20,75.3 591.45,75.7 591.70,76.1 591.95,76.4 592.20,76.7 592.45,77.0 592.70,77.2 592.95,77.5 593.20,77.7 593.45,77.9 593.70,78.1 593.95,78.3 594.20,78.4 594.45,78.6 594.70,78.7 594.95,78.9 595.20,79.0 595.45,79.2 595.70,79.3 595.95,79.4 596.20,79.5 596.45,79.6 596.70,79.7 596.95,79.8 597.20,80.0 597.45,80.1 597.70,80.2 597.95,80.3 598.20,80.4 598.45,80.4 598.70,80.5 598.95,80.6 599.20,80.7 599.45,80.7 599.70,80.8 599.95,80.9 600.20,81.0 600.45,81.0 600.70,81.1 600.95,81.2 601.20,81.3 601.45,81.4 601.70,81.6 601.95,81.7 602.20,81.9 602.45,82.0 602.70,82.2 602.95,82.4 603.20,82.7 603.45,82.9 603.70,83.2 603.95,83.4 604.20,83.7 604.45,84.1 604.70,84.4 604.95,84.8 605.20,85.3 605.45,85.8 605.70,86.2 605.95,86.8 606.20,87.3 606.45,87.9 606.70,88.5 606.95,89.2 607.20,90.0 607.45,90.8 607.70,91.6 607.95,92.5 608.20,93.5 608.45,94.4 608.70,95.3 608.95,96.2 609.20,97.0 609.45,97.8 609.70,98.7 609.95,99.5 610.20,100.4 610.45,101.3 610.70,102.1 610.95,103.0 611.20,103.7 611.45,104.5 611.70,105.2 611.95,105.9 612.20,106.5 612.45,107.1 612.70,107.6 612.95,108.2 613.20,108.7 613.45,109.2 613.70,109.7 613.95,110.1 614.20,110.5 614.45,110.9 614.70,111.3 614.95,111.6 615.20,112.0 615.45,112.3 615.70,112.6 615.95,112.9 616.20,113.2 616.45,113.5 616.70,113.8 616.95,114.1 617.20,114.3 617.45,114.5 617.70,114.8 617.95,115.0 618.20,115.2 618.45,115.4 618.70,115.5 618.95,115.7 619.20,115.9 619.45,116.1 619.70,116.3 619.95,116.4 620.20,116.6 620.45,116.7 620.70,116.9 620.95,117.0 621.20,117.1 621.45,117.2 621.70,117.3 621.95,117.4 622.20,117.5 622.45,117.5 622.70,117.6 622.95,117.7 623.20,117.7 623.45,117.8 623.70,117.9 623.95,117.9 624.20,118.0 624.45,118.0 624.70,118.1 624.95,118.2 625.20,118.2 625.45,118.3 625.70,118.3 625.95,118.4 626.20,118.4 626.45,118.5 626.70,118.5 626.95,118.5 627.20,118.6 627.45,118.6 627.70,118.7 627.95,118.7 628.20,118.7 628.45,118.8 628.70,118.8 628.95,118.8 629.20,118.9 629.45,118.9 629.70,118.9 629.95,119.0 630.20,119.0 630.45,119.0 630.70,119.0 630.95,119.1 631.20,119.1 631.45,119.1 631.70,119.1 631.95,119.1 632.20,119.2 632.45,119.2 632.70,119.2 632.95,119.2 633.20,119.2 633.45,119.3 633.70,119.3 633.95,119.3 634.20,119.3 634.45,119.3 634.70,119.3 634.95,119.4 635.20,119.4 635.45,119.4 635.70,119.4 635.95,119.4 636.20,119.4 636.45,119.5 636.70,119.5 636.95,119.5 637.20,119.5 637.45,119.5 637.70,119.5 637.95,119.5 638.20,119.6 638.45,119.6 638.70,119.6 638.95,119.6 639.20,119.6 639.45,119.6 639.70,119.6 639.95,119.6 640.20,119.7 640.45,119.7 640.70,119.7 640.95,119.7 641.20,119.7 641.45,119.7 641.70,119.7 641.95,119.7 642.20,119.7 642.45,119.7 642.70,119.7 642.95,119.8 643.20,119.8 643.45,119.8 643.70,119.8 643.95,119.8 644.20,119.8 644.45,119.8 644.70,119.8 644.95,119.8 645.20,119.8 645.45,119.8 645.70,119.8 645.95,119.8 646.20,119.8 646.45,119.8 646.70,119.8 646.95,119.8 647.20,119.8 647.45,119.8 647.70,119.8 647.95,119.8 648.20,119.9 648.45,119.9 648.70,119.9 648.95,119.9 649.20,119.9 649.45,119.9 649.70,119.9 649.95,119.9 650.20,119.9 650.45,119.9 650.70,119.9 650.95,119.9 651.20,119.9 651.45,119.9 651.70,119.9 651.95,119.9 652.20,119.9 652.45,119.9 652.70,119.9 652.95,119.9 653.20,119.9 653.45,119.9 653.70,119.9 653.95,119.9 654.20,119.9 654.45,119.9 654.70,119.9 654.95,119.9 655.20,119.9 655.45,119.9 655.70,120.0 655.95,120.0 656.20,120.0 656.45,120.0 656.70,120.0 656.95,120.0 657.20,120.0 657.45,120.0 657.70,120.0 657.95,120.0 658.20,120.0 658.45,120.0 658.70,120.0 658.95,120.0 659.20,120.0 659.45,120.0 659.70,120.0 659.95,120.0 660.20,120.0 660.45,120.0 660.70,120.0 660.95,120.0 661.20,120.0 661.45,120.0 661.70,120.0 661.95,120.0 662.20,120.0 662.45,120.0 662.70,120.0 662.95,120.0 663.20,120.0 663.45,120.0 663.70,120.0 663.95,120.0 664.20,120.0 664.45,120.0 664.70,120.0 664.95,120.0 665.00,120.0" fill="none" stroke="#d02a2a" stroke-width="1.2" stroke-linejoin="round"/>
<polyline points="516.20,119.7 516.45,119.7 516.70,119.7 516.95,119.7 517.20,119.7 517.45,119.7 517.70,119.7 517.95,119.7 518.20,119.7 518.45,119.7 518.70,119.7 518.95,119.7 519.20,119.7 519.45,119.7 519.70,119.7 519.95,119.6 520.20,119.6 520.45,119.6 520.70,119.6 520.95,119.6 521.20,119.6 521.45,119.6 521.70,119.6 521.95,119.6 522.20,119.6 522.45,119.6 522.70,119.6 522.95,119.5 523.20,119.5 523.45,119.5 523.70,119.5 523.95,119.5 524.20,119.5 524.45,119.5 524.70,119.5 524.95,119.4 525.20,119.4 525.45,119.4 525.70,119.4 525.95,119.4 526.20,119.3 526.45,119.3 526.70,119.3 526.95,119.2 527.20,119.2 527.45,119.2 527.70,119.1 527.95,119.1 528.20,119.1 528.45,119.0 528.70,119.0 528.95,119.0 529.20,118.9 529.45,118.9 529.70,118.8 529.95,118.8 530.20,118.8 530.45,118.7 530.70,118.7 530.95,118.7 531.20,118.6 531.45,118.6 531.70,118.5 531.95,118.5 532.20,118.5 532.45,118.4 532.70,118.4 532.95,118.3 533.20,118.3 533.45,118.3 533.70,118.2 533.95,118.2 534.20,118.2 534.45,118.1 534.70,118.1 534.95,118.0 535.20,118.0 535.45,117.9 535.70,117.9 535.95,117.8 536.20,117.7 536.45,117.7 536.70,117.6 536.95,117.5 537.20,117.4 537.45,117.3 537.70,117.2 537.95,117.0 538.20,116.8 538.45,116.6 538.70,116.4 538.95,116.2 539.20,116.0 539.45,115.7 539.70,115.5 539.95,115.2 540.20,114.8 540.45,114.5 540.70,114.1 540.95,113.8 541.20,113.5 541.45,113.3 541.70,113.0 541.95,112.7 542.20,112.4 542.45,112.0 542.70,111.7 542.95,111.3 543.20,110.8 543.45,110.3 543.70,109.7 543.95,108.9 544.20,107.9 544.45,106.8 544.70,104.9 544.95,102.3 545.20,99.8 545.45,97.0 545.70,94.7 545.95,94.0 546.20,94.1 546.45,94.2 546.70,94.2 546.95,94.3 547.20,94.2 547.45,93.7 547.70,93.0 547.95,92.4 548.20,91.8 548.45,91.5 548.70,91.7 548.95,92.3 549.20,93.2 549.45,94.1 549.70,95.4 549.95,96.9 550.20,98.3 550.45,99.3 550.70,100.1 550.95,100.9 551.20,101.5 551.45,101.9 551.70,102.0 551.95,101.7 552.20,101.2 552.45,100.5 552.70,99.7 552.95,98.2 553.20,96.0 553.45,93.8 553.70,92.3 553.95,91.1 554.20,89.7 554.45,88.0 554.70,85.4 554.95,82.3 555.20,79.1 555.45,76.4 555.70,73.7 555.95,71.0 556.20,68.6 556.45,66.4 556.70,64.6 556.95,63.0 557.20,61.5 557.45,60.0 557.70,58.2 557.95,56.1 558.20,53.7 558.45,51.8 558.70,50.5 558.95,49.8 559.20,49.2 559.45,48.9 559.70,48.8 559.95,48.9 560.20,49.1 560.45,49.4 560.70,50.1 560.95,51.3 561.20,52.7 561.45,54.2 561.70,55.6 561.95,57.2 562.20,58.9 562.45,60.3 562.70,61.2 562.95,61.6 563.20,61.9 563.45,62.1 563.70,61.9 563.95,61.3 564.20,60.5 564.45,59.6 564.70,59.0 564.95,58.5 565.20,58.0 565.45,57.8 565.70,58.0 565.95,58.7 566.20,59.7 566.45,60.8 566.70,62.1 566.95,63.8 567.20,65.7 567.45,68.0 567.70,70.8 567.95,74.1 568.20,78.2 568.45,81.6 568.70,83.5 568.95,85.1 569.20,86.5 569.45,87.7 569.70,88.7 569.95,89.4 570.20,89.9 570.45,90.3 570.70,90.6 570.95,90.9 571.20,91.2 571.45,91.4 571.70,91.6 571.95,91.8 572.20,91.9 572.45,92.1 572.70,92.3 572.95,92.4 573.20,92.6 573.45,92.8 573.70,92.9 573.95,93.1 574.20,93.2 574.45,93.3 574.70,93.4 574.95,93.4 575.20,93.4 575.45,93.3 575.70,93.0 575.95,92.7 576.20,92.4 576.45,92.0 576.70,91.6 576.95,91.3 577.20,91.1 577.45,90.9 577.70,90.9 577.95,90.9 578.20,90.9 578.45,90.9 578.70,90.9 578.95,90.9 579.20,90.9 579.45,90.9 579.70,90.9 579.95,90.9 580.20,90.9 580.45,90.9 580.70,90.8 580.95,90.8 581.20,90.7 581.45,90.6 581.70,90.5 581.95,90.4 582.20,90.2 582.45,90.0 582.70,89.5 582.95,89.0 583.20,88.4 583.45,87.7 583.70,87.0 583.95,86.3 584.20,85.6 584.45,85.0 584.70,84.4 584.95,83.8 585.20,83.2 585.45,82.6 585.70,82.0 585.95,81.4 586.20,80.8 586.45,80.3 586.70,79.8 586.95,79.3 587.20,78.8 587.45,78.4 587.70,78.0 587.95,77.6 588.20,77.2 588.45,76.9 588.70,76.5 588.95,76.2 589.20,75.9 589.45,75.5 589.70,75.2 589.95,74.9 590.20,74.6 590.45,74.3 590.70,74.0 590.95,73.6 591.20,73.3 591.45,73.0 591.70,72.8 591.95,72.6 592.20,72.6 592.45,72.7 592.70,73.0 592.95,73.4 593.20,73.8 593.45,74.2 593.70,74.7 593.95,75.1 594.20,75.5 594.45,76.0 594.70,76.5 594.95,77.1 595.20,77.6 595.45,78.1 595.70,78.7 595.95,79.2 596.20,79.6 596.45,80.0 596.70,80.3 596.95,80.6 597.20,80.9 597.45,81.2 597.70,81.4 597.95,81.6 598.20,81.9 598.45,82.1 598.70,82.3 598.95,82.5 599.20,82.7 599.45,82.9 599.70,83.0 599.95,83.2 600.20,83.3 600.45,83.5 600.70,83.6 600.95,83.8 601.20,83.9 601.45,84.0 601.70,84.1 601.95,84.2 602.20,84.3 602.45,84.4 602.70,84.5 602.95,84.6 603.20,84.7 603.45,84.8 603.70,84.9 603.95,85.0 604.20,85.1 604.45,85.2 604.70,85.3 604.95,85.4 605.20,85.6 605.45,85.7 605.70,85.8 605.95,85.9 606.20,86.0 606.45,86.1 606.70,86.2 606.95,86.3 607.20,86.5 607.45,86.6 607.70,86.8 607.95,87.0 608.20,87.2 608.45,87.4 608.70,87.6 608.95,87.9 609.20,88.2 609.45,88.5 609.70,88.8 609.95,89.2 610.20,89.6 610.45,89.9 610.70,90.3 610.95,90.7 611.20,91.2 611.45,91.7 611.70,92.2 611.95,92.8 612.20,93.3 612.45,93.9 612.70,94.5 612.95,95.1 613.20,95.8 613.45,96.4 613.70,97.0 613.95,97.7 614.20,98.4 614.45,99.1 614.70,99.8 614.95,100.6 615.20,101.3 615.45,102.0 615.70,102.7 615.95,103.4 616.20,104.0 616.45,104.6 616.70,105.2 616.95,105.8 617.20,106.4 617.45,107.0 617.70,107.5 617.95,108.0 618.20,108.5 618.45,108.9 618.70,109.3 618.95,109.7 619.20,110.0 619.45,110.4 619.70,110.7 619.95,111.0 620.20,111.3 620.45,111.6 620.70,111.8 620.95,112.1 621.20,112.3 621.45,112.6 621.70,112.8 621.95,113.1 622.20,113.3 622.45,113.5 622.70,113.7 622.95,113.9 623.20,114.1 623.45,114.3 623.70,114.5 623.95,114.7 624.20,114.8 624.45,115.0 624.70,115.1 624.95,115.2 625.20,115.4 625.45,115.5 625.70,115.6 625.95,115.8 626.20,115.9 626.45,116.0 626.70,116.1 626.95,116.2 627.20,116.3 627.45,116.4 627.70,116.5 627.95,116.6 628.20,116.7 628.45,116.8 628.70,116.9 628.95,117.0 629.20,117.0 629.45,117.1 629.70,117.2 629.95,117.3 630.20,117.3 630.45,117.4 630.70,117.5 630.95,117.6 631.20,117.6 631.45,117.7 631.70,117.8 631.95,117.8 632.20,117.9 632.45,118.0 632.70,118.0 632.95,118.1 633.20,118.2 633.45,118.2 633.70,118.3 633.95,118.3 634.20,118.4 634.45,118.4 634.70,118.5 634.95,118.6 635.20,118.6 635.45,118.7 635.70,118.7 635.95,118.8 636.20,118.8 636.45,118.8 636.70,118.9 636.95,118.9 637.20,119.0 637.45,119.0 637.70,119.0 637.95,119.0 638.20,119.1 638.45,119.1 638.70,119.1 638.95,119.1 639.20,119.2 639.45,119.2 639.70,119.2 639.95,119.2 640.20,119.2 640.45,119.3 640.70,119.3 640.95,119.3 641.20,119.3 641.45,119.3 641.70,119.3 641.95,119.4 642.20,119.4 642.45,119.4 642.70,119.4 642.95,119.4 643.20,119.4 643.45,119.4 643.70,119.5 643.95,119.5 644.20,119.5 644.45,119.5 644.70,119.5 644.95,119.5 645.20,119.5 645.45,119.5 645.70,119.6 645.95,119.6 646.20,119.6 646.45,119.6 646.70,119.6 646.95,119.6 647.20,119.6 647.45,119.6 647.70,119.6 647.95,119.6 648.20,119.6 648.45,119.7 648.70,119.7 648.95,119.7 649.20,119.7 649.45,119.7 649.70,119.7 649.95,119.7 650.20,119.7 650.45,119.7 650.70,119.7 650.95,119.7 651.20,119.7 651.45,119.7 651.70,119.7 651.95,119.7 652.20,119.7 652.45,119.7 652.70,119.8 652.95,119.8 653.20,119.8 653.45,119.8 653.70,119.8 653.95,119.8 654.20,119.8 654.45,119.8 654.70,119.8 654.95,119.8 655.20,119.8 655.45,119.8 655.70,119.8 655.95,119.8 656.20,119.8 656.45,119.8 656.70,119.8 656.95,119.8 657.20,119.8 657.45,119.8 657.70,119.8 657.95,119.9 658.20,119.9 658.45,119.9 658.70,119.9 658.95,119.9 659.20,119.9 659.45,119.9 659.70,119.9 659.95,119.9 660.20,119.9 660.45,119.9 660.70,119.9 660.95,119.9 661.20,119.9 661.45,119.9 661.70,119.9 661.95,119.9 662.20,119.9 662.45,119.9 662.70,119.9 662.95,119.9 663.20,119.9 663.45,119.9 663.70,119.9 663.95,119.9 664.20,119.9 664.45,119.9 664.70,119.9 664.95,119.9 665.20,120.0 665.45,120.0 665.70,120.0 665.95,120.0 666.20,120.0 666.45,120.0 666.70,120.0 666.95,120.0 667.20,120.0 667.45,120.0 667.70,120.0 667.95,120.0 668.20,120.0 668.45,120.0 668.70,120.0 668.95,120.0 669.20,120.0 669.45,120.0 669.70,120.0 669.95,120.0 670.20,120.0 670.45,120.0 670.70,120.0 670.95,120.0 671.20,120.0 671.45,120.0 671.70,120.0 671.95,120.0 672.20,120.0 672.45,120.0 672.70,120.0 672.95,120.0 673.20,120.0 673.45,120.0 673.70,120.0 673.95,120.0 674.00,120.0" fill="none" stroke="#111111" stroke-width="1.2" stroke-linejoin="round"/>
<rect x="506.5" y="12.5" width="170.0" height="108.0" fill="none" stroke="#000" stroke-width="1"/>
<line x1="502.0" y1="120.5" x2="506.5" y2="120.5" stroke="#000" stroke-width="1"/>
<text x="501.2" y="125.3" font-size="12" text-anchor="end">0.0</text>
<line x1="502.0" y1="84.5" x2="506.5" y2="84.5" stroke="#000" stroke-width="1"/>
<text x="501.2" y="89.3" font-size="12" text-anchor="end">0.5</text>
<line x1="502.0" y1="48.5" x2="506.5" y2="48.5" stroke="#000" stroke-width="1"/>
<text x="501.2" y="53.3" font-size="12" text-anchor="end">1.0</text>
<line x1="502.0" y1="12.5" x2="506.5" y2="12.5" stroke="#000" stroke-width="1"/>
<text x="501.2" y="17.3" font-size="12" text-anchor="end">1.5</text>
<line x1="506.5" y1="120.5" x2="506.5" y2="125.0" stroke="#000" stroke-width="1"/>
<text x="506.5" y="139.5" font-size="12" text-anchor="middle">-10</text>
<line x1="534.8333333333334" y1="120.5" x2="534.8333333333334" y2="125.0" stroke="#000" stroke-width="1"/>
<text x="534.83" y="139.5" font-size="12" text-anchor="middle">0</text>
<line x1="563.1666666666666" y1="120.5" x2="563.1666666666666" y2="125.0" stroke="#000" stroke-width="1"/>
<text x="563.17" y="139.5" font-size="12" text-anchor="middle">10</text>
<line x1="591.5" y1="120.5" x2="591.5" y2="125.0" stroke="#000" stroke-width="1"/>
<text x="591.5" y="139.5" font-size="12" text-anchor="middle">20</text>
<line x1="619.8333333333334" y1="120.5" x2="619.8333333333334" y2="125.0" stroke="#000" stroke-width="1"/>
<text x="619.83" y="139.5" font-size="12" text-anchor="middle">30</text>
<line x1="648.1666666666667" y1="120.5" x2="648.1666666666667" y2="125.0" stroke="#000" stroke-width="1"/>
<text x="648.17" y="139.5" font-size="12" text-anchor="middle">40</text>
<line x1="676.5" y1="120.5" x2="676.5" y2="125.0" stroke="#000" stroke-width="1"/>
<text x="676.5" y="139.5" font-size="12" text-anchor="middle">50</text>
<text x="591.5" y="155.8" font-size="12" text-anchor="middle" textLength="64" lengthAdjust="spacingAndGlyphs">Energy (eV)</text>
<text x="0" y="0" font-size="12" text-anchor="middle" textLength="106.5" lengthAdjust="spacingAndGlyphs" transform="translate(479.0,63.8) rotate(-90)">Intensity (arb.units)</text>
<text x="620.3000000000001" y="9.1" font-size="9" textLength="52.9" lengthAdjust="spacingAndGlyphs">Cl-Absorption</text>
<rect x="508.5" y="16.5" width="20.0" height="19.0" fill="#fff" stroke="#111" stroke-width="1"/>
<text x="511.25" y="30.4" font-size="12" text-anchor="start" textLength="15.3" lengthAdjust="spacingAndGlyphs">(c)</text>
<line x1="589" y1="22.2" x2="600.1" y2="22.2" stroke="#111111" stroke-width="1.6"/>
<text x="606.6" y="26.4" font-size="10.5" text-anchor="start" textLength="32.2" lengthAdjust="spacingAndGlyphs">Doping</text>
<text x="642.4" y="26.4" font-size="10.5" text-anchor="start" textLength="24.7" lengthAdjust="spacingAndGlyphs">(0%)</text>
<line x1="589" y1="34.9" x2="600.1" y2="34.9" stroke="#d02a2a" stroke-width="1.6"/>
<text x="606.6" y="39.1" font-size="10.5" text-anchor="start" textLength="32.2" lengthAdjust="spacingAndGlyphs">Doping</text>
<text x="642.4" y="39.1" font-size="10.5" text-anchor="start" textLength="24.7" lengthAdjust="spacingAndGlyphs">(6%)</text>
<line x1="589" y1="47.5" x2="600.1" y2="47.5" stroke="#3ee03e" stroke-width="1.6"/>
<text x="606.6" y="51.7" font-size="10.5" text-anchor="start" textLength="32.2" lengthAdjust="spacingAndGlyphs">Doping</text>
<text x="642.4" y="51.7" font-size="10.5" text-anchor="start" textLength="29.8" lengthAdjust="spacingAndGlyphs">(11%)</text>
<line x1="589" y1="60.2" x2="600.1" y2="60.2" stroke="#2424b4" stroke-width="1.6"/>
<text x="606.6" y="64.4" font-size="10.5" text-anchor="start" textLength="32.2" lengthAdjust="spacingAndGlyphs">Doping</text>
<text x="642.4" y="64.4" font-size="10.5" text-anchor="start" textLength="29.8" lengthAdjust="spacingAndGlyphs">(17%)</text>
<polyline points="40.50,304.3 41.00,304.3 41.50,304.2 42.00,304.2 42.50,304.1 43.00,304.1 43.50,304.0 44.00,304.0 44.50,303.9 45.00,303.9 45.50,303.8 46.00,303.8 46.50,303.7 47.00,303.7 47.50,303.6 48.00,303.5 48.50,303.5 49.00,303.4 49.50,303.4 50.00,303.3 50.50,303.3 51.00,303.2 51.50,303.1 52.00,303.1 52.50,303.0 53.00,303.0 53.50,302.9 54.00,302.8 54.50,302.8 55.00,302.7 55.50,302.7 56.00,302.6 56.50,302.5 57.00,302.5 57.50,302.4 58.00,302.4 58.50,302.3 59.00,302.2 59.50,302.2 60.00,302.1 60.50,302.1 61.00,302.0 61.50,301.9 62.00,301.9 62.50,301.8 63.00,301.7 63.50,301.7 64.00,301.6 64.50,301.5 65.00,301.5 65.50,301.4 66.00,301.3 66.50,301.2 67.00,301.2 67.50,301.1 68.00,301.0 68.50,300.9 69.00,300.8 69.50,300.7 70.00,300.6 70.50,300.5 71.00,300.4 71.50,300.3 72.00,300.2 72.50,300.0 73.00,299.9 73.50,299.8 74.00,299.6 74.50,299.5 75.00,299.3 75.50,299.1 76.00,299.0 76.50,298.8 77.00,298.6 77.50,298.4 78.00,298.2 78.50,297.9 79.00,297.7 79.50,297.5 80.00,297.2 80.50,296.9 81.00,296.6 81.50,296.2 82.00,295.8 82.50,295.4 83.00,294.9 83.50,294.5 84.00,294.0 84.50,293.4 85.00,292.9 85.50,292.3 86.00,291.7 86.50,291.1 87.00,290.5 87.50,289.7 88.00,289.0 88.50,288.1 89.00,287.2 89.50,286.2 90.00,285.2 90.50,284.0 91.00,282.7 91.50,281.1 92.00,279.4 92.50,277.5 93.00,275.5 93.50,273.4 94.00,270.9 94.50,268.1 95.00,265.1 95.50,262.2 96.00,259.3 96.50,256.2 97.00,253.2 97.50,250.2 98.00,247.3 98.50,244.4 99.00,241.4 99.50,238.6 100.00,236.4 100.50,234.8 101.00,233.3 101.50,232.4 102.00,232.3 102.50,232.6 103.00,233.1 103.50,233.8 104.00,235.5 104.50,238.1 105.00,240.8 105.50,243.3 106.00,245.4 106.50,247.5 107.00,249.6 107.50,251.5 108.00,253.4 108.50,255.2 109.00,256.8 109.50,258.5 110.00,260.1 110.50,261.6 111.00,262.8 111.50,263.8 112.00,264.4 112.50,265.0 113.00,265.5 113.50,265.9 114.00,266.3 114.50,266.5 115.00,266.7 115.50,266.8 116.00,266.9 116.50,266.7 117.00,266.2 117.50,265.5 118.00,264.7 118.50,263.9 119.00,263.2 119.50,262.7 120.00,262.1 120.50,261.6 121.00,261.0 121.50,260.5 122.00,260.0 122.50,259.5 123.00,259.0 123.50,258.5 124.00,258.1 124.50,257.6 125.00,257.2 125.50,256.7 126.00,256.3 126.50,255.9 127.00,255.5 127.50,255.0 128.00,254.6 128.50,254.2 129.00,253.8 129.50,253.5 130.00,253.2 130.50,252.8 131.00,252.6 131.50,252.3 132.00,252.0 132.50,251.8 133.00,251.5 133.50,251.3 134.00,251.1 134.50,251.0 135.00,250.9 135.50,250.9 136.00,251.1 136.50,251.5 137.00,251.9 137.50,252.4 138.00,253.0 138.50,253.6 139.00,254.3 139.50,255.2 140.00,256.1 140.50,257.2 141.00,258.2 141.50,259.2 142.00,260.1 142.50,261.0 143.00,261.8 143.50,262.7 144.00,263.5 144.50,264.4 145.00,265.2 145.50,266.0 146.00,266.8 146.50,267.6 147.00,268.3 147.50,268.9 148.00,269.6 148.50,270.2 149.00,270.8 149.50,271.4 150.00,272.1 150.50,272.7 151.00,273.5 151.50,274.3 152.00,275.2 152.50,276.2 153.00,277.3 153.50,278.3 154.00,279.4 154.50,280.5 155.00,281.5 155.50,282.5 156.00,283.4 156.50,284.4 157.00,285.3 157.50,286.2 158.00,287.0 158.50,287.9 159.00,288.7 159.50,289.4 160.00,290.1 160.50,290.8 161.00,291.4 161.50,292.0 162.00,292.6 162.50,293.1 163.00,293.7 163.50,294.2 164.00,294.7 164.50,295.2 165.00,295.6 165.50,296.0 166.00,296.4 166.50,296.7 167.00,296.9 167.50,297.2 168.00,297.5 168.50,297.7 169.00,297.9 169.50,298.2 170.00,298.4 170.50,298.6 171.00,298.8 171.50,298.9 172.00,299.1 172.50,299.3 173.00,299.4 173.50,299.6 174.00,299.7 174.50,299.8 175.00,300.0 175.50,300.1 176.00,300.2 176.50,300.3 177.00,300.4 177.50,300.5 178.00,300.6 178.50,300.7 179.00,300.8 179.50,300.9 180.00,301.0 180.50,301.1 181.00,301.2 181.50,301.3 182.00,301.4 182.50,301.5 183.00,301.5 183.50,301.6 184.00,301.7 184.50,301.8 185.00,301.8 185.50,301.9 186.00,302.0 186.50,302.0 187.00,302.1 187.50,302.2 188.00,302.2 188.50,302.3 189.00,302.3 189.50,302.4 190.00,302.5 190.50,302.5 191.00,302.6 191.50,302.6 192.00,302.7 192.50,302.7 193.00,302.8 193.50,302.8 194.00,302.9 194.50,302.9 195.00,303.0 195.50,303.0 196.00,303.0 196.50,303.1 197.00,303.1 197.50,303.2 198.00,303.2 198.50,303.3 199.00,303.3 199.50,303.3 200.00,303.4 200.50,303.4 201.00,303.5 201.50,303.5 202.00,303.5 202.50,303.6 203.00,303.6 203.50,303.7 204.00,303.7 204.50,303.7 205.00,303.8 205.50,303.8 206.00,303.8 206.50,303.9 207.00,303.9 207.50,303.9 208.00,304.0 208.50,304.0 209.00,304.0 209.50,304.1 210.00,304.1 210.50,304.1 211.00,304.2 211.50,304.2" fill="none" stroke="#2424b4" stroke-width="1.25" stroke-linejoin="round"/>
<polyline points="40.50,304.4 41.00,304.4 41.50,304.3 42.00,304.3 42.50,304.2 43.00,304.2 43.50,304.2 44.00,304.1 44.50,304.1 45.00,304.0 45.50,304.0 46.00,303.9 46.50,303.9 47.00,303.8 47.50,303.8 48.00,303.8 48.50,303.7 49.00,303.7 49.50,303.6 50.00,303.6 50.50,303.5 51.00,303.5 51.50,303.4 52.00,303.3 52.50,303.3 53.00,303.2 53.50,303.2 54.00,303.1 54.50,303.1 55.00,303.0 55.50,303.0 56.00,302.9 56.50,302.9 57.00,302.8 57.50,302.7 58.00,302.7 58.50,302.6 59.00,302.6 59.50,302.5 60.00,302.5 60.50,302.4 61.00,302.3 61.50,302.3 62.00,302.2 62.50,302.1 63.00,302.1 63.50,302.0 64.00,301.9 64.50,301.9 65.00,301.8 65.50,301.7 66.00,301.7 66.50,301.6 67.00,301.5 67.50,301.4 68.00,301.3 68.50,301.3 69.00,301.2 69.50,301.1 70.00,301.0 70.50,300.9 71.00,300.8 71.50,300.7 72.00,300.6 72.50,300.5 73.00,300.4 73.50,300.3 74.00,300.1 74.50,300.0 75.00,299.9 75.50,299.7 76.00,299.6 76.50,299.4 77.00,299.3 77.50,299.1 78.00,298.9 78.50,298.7 79.00,298.5 79.50,298.3 80.00,298.1 80.50,297.9 81.00,297.6 81.50,297.3 82.00,297.0 82.50,296.6 83.00,296.2 83.50,295.8 84.00,295.4 84.50,295.0 85.00,294.5 85.50,294.0 86.00,293.5 86.50,293.0 87.00,292.5 87.50,291.9 88.00,291.3 88.50,290.7 89.00,290.0 89.50,289.2 90.00,288.4 90.50,287.5 91.00,286.6 91.50,285.6 92.00,284.5 92.50,283.3 93.00,281.9 93.50,280.3 94.00,278.5 94.50,276.6 95.00,274.6 95.50,272.5 96.00,270.0 96.50,267.2 97.00,264.4 97.50,261.6 98.00,258.8 98.50,255.9 99.00,253.0 99.50,250.1 100.00,247.3 100.50,244.4 101.00,241.3 101.50,238.5 102.00,236.3 102.50,234.9 103.00,233.6 103.50,232.7 104.00,232.3 104.50,232.5 105.00,232.9 105.50,233.6 106.00,235.1 106.50,237.7 107.00,240.7 107.50,243.3 108.00,245.5 108.50,247.7 109.00,249.8 109.50,251.9 110.00,253.8 110.50,255.5 111.00,257.2 111.50,258.8 112.00,260.4 112.50,261.9 113.00,263.0 113.50,263.9 114.00,264.5 114.50,265.1 115.00,265.6 115.50,266.0 116.00,266.4 116.50,266.6 117.00,266.8 117.50,266.9 118.00,266.8 118.50,266.5 119.00,265.8 119.50,265.1 120.00,264.2 120.50,263.5 121.00,262.9 121.50,262.3 122.00,261.7 122.50,261.1 123.00,260.5 123.50,260.0 124.00,259.4 124.50,258.8 125.00,258.3 125.50,257.8 126.00,257.3 126.50,256.8 127.00,256.3 127.50,255.9 128.00,255.4 128.50,255.0 129.00,254.5 129.50,254.1 130.00,253.7 130.50,253.3 131.00,252.9 131.50,252.5 132.00,252.2 132.50,251.8 133.00,251.5 133.50,251.2 134.00,250.8 134.50,250.4 135.00,250.1 135.50,249.8 136.00,249.6 136.50,249.5 137.00,249.5 137.50,249.7 138.00,250.0 138.50,250.4 139.00,250.8 139.50,251.3 140.00,251.9 140.50,252.4 141.00,253.0 141.50,253.7 142.00,254.5 142.50,255.3 143.00,256.2 143.50,257.2 144.00,258.1 144.50,259.0 145.00,259.9 145.50,260.8 146.00,261.6 146.50,262.5 147.00,263.3 147.50,264.2 148.00,265.1 148.50,265.9 149.00,266.8 149.50,267.6 150.00,268.5 150.50,269.4 151.00,270.2 151.50,271.1 152.00,272.0 152.50,272.8 153.00,273.7 153.50,274.6 154.00,275.4 154.50,276.3 155.00,277.2 155.50,278.1 156.00,278.9 156.50,279.8 157.00,280.7 157.50,281.7 158.00,282.6 158.50,283.5 159.00,284.4 159.50,285.3 160.00,286.2 160.50,287.0 161.00,287.8 161.50,288.6 162.00,289.3 162.50,290.0 163.00,290.6 163.50,291.3 164.00,292.0 164.50,292.6 165.00,293.2 165.50,293.8 166.00,294.3 166.50,294.8 167.00,295.3 167.50,295.6 168.00,296.0 168.50,296.2 169.00,296.5 169.50,296.8 170.00,297.0 170.50,297.2 171.00,297.4 171.50,297.6 172.00,297.8 172.50,298.0 173.00,298.1 173.50,298.3 174.00,298.5 174.50,298.6 175.00,298.8 175.50,298.9 176.00,299.0 176.50,299.2 177.00,299.3 177.50,299.4 178.00,299.6 178.50,299.7 179.00,299.8 179.50,299.9 180.00,300.0 180.50,300.1 181.00,300.3 181.50,300.4 182.00,300.5 182.50,300.6 183.00,300.7 183.50,300.7 184.00,300.8 184.50,300.9 185.00,301.0 185.50,301.1 186.00,301.2 186.50,301.2 187.00,301.3 187.50,301.4 188.00,301.5 188.50,301.5 189.00,301.6 189.50,301.7 190.00,301.7 190.50,301.8 191.00,301.9 191.50,301.9 192.00,302.0 192.50,302.0 193.00,302.1 193.50,302.2 194.00,302.2 194.50,302.3 195.00,302.3 195.50,302.4 196.00,302.4 196.50,302.5 197.00,302.5 197.50,302.6 198.00,302.6 198.50,302.7 199.00,302.7 199.50,302.8 200.00,302.8 200.50,302.9 201.00,302.9 201.50,303.0 202.00,303.1 202.50,303.1 203.00,303.2 203.50,303.2 204.00,303.3 204.50,303.3 205.00,303.4 205.50,303.4 206.00,303.5 206.50,303.5 207.00,303.6 207.50,303.6 208.00,303.7 208.50,303.7 209.00,303.8 209.50,303.8 210.00,303.9 210.50,303.9 211.00,304.0 211.50,304.0" fill="none" stroke="#d02a2a" stroke-width="1.25" stroke-linejoin="round"/>
<rect x="40.5" y="196.5" width="171.0" height="108.0" fill="none" stroke="#000" stroke-width="1"/>
<line x1="36.0" y1="304.5" x2="40.5" y2="304.5" stroke="#000" stroke-width="1"/>
<text x="35.2" y="309.3" font-size="12" text-anchor="end">0.0</text>
<line x1="36.0" y1="268.5" x2="40.5" y2="268.5" stroke="#000" stroke-width="1"/>
<text x="35.2" y="273.3" font-size="12" text-anchor="end">0.5</text>
<line x1="36.0" y1="232.5" x2="40.5" y2="232.5" stroke="#000" stroke-width="1"/>
<text x="35.2" y="237.3" font-size="12" text-anchor="end">1.0</text>
<line x1="36.0" y1="196.5" x2="40.5" y2="196.5" stroke="#000" stroke-width="1"/>
<text x="35.2" y="201.3" font-size="12" text-anchor="end">1.5</text>
<line x1="40.5" y1="304.5" x2="40.5" y2="309.0" stroke="#000" stroke-width="1"/>
<text x="40.5" y="323.5" font-size="12" text-anchor="middle">-15</text>
<line x1="83.25" y1="304.5" x2="83.25" y2="309.0" stroke="#000" stroke-width="1"/>
<text x="83.25" y="323.5" font-size="12" text-anchor="middle">0</text>
<line x1="126.0" y1="304.5" x2="126.0" y2="309.0" stroke="#000" stroke-width="1"/>
<text x="126.0" y="323.5" font-size="12" text-anchor="middle">15</text>
<line x1="168.75" y1="304.5" x2="168.75" y2="309.0" stroke="#000" stroke-width="1"/>
<text x="168.75" y="323.5" font-size="12" text-anchor="middle">30</text>
<line x1="211.5" y1="304.5" x2="211.5" y2="309.0" stroke="#000" stroke-width="1"/>
<text x="211.5" y="323.5" font-size="12" text-anchor="middle">45</text>
<text x="126.0" y="339.8" font-size="12" text-anchor="middle" textLength="64" lengthAdjust="spacingAndGlyphs">Energy (eV)</text>
<text x="0" y="0" font-size="12" text-anchor="middle" textLength="106.5" lengthAdjust="spacingAndGlyphs" transform="translate(13.0,247.8) rotate(-90)">Intensity (arb.units)</text>
<text x="154.29999999999998" y="193" font-size="9" textLength="53.9" lengthAdjust="spacingAndGlyphs">Sr-Absorption</text>
<rect x="44.5" y="200.5" width="20.0" height="18.0" fill="#fff" stroke="#111" stroke-width="1"/>
<text x="46.05" y="214.1" font-size="12" text-anchor="start" textLength="16.8" lengthAdjust="spacingAndGlyphs">(g)</text>
<line x1="124" y1="207.7" x2="135.4" y2="207.7" stroke="#d02a2a" stroke-width="1.6"/>
<text x="141.2" y="211.9" font-size="10.5" text-anchor="start" textLength="32.2" lengthAdjust="spacingAndGlyphs">Doping</text>
<text x="177.0" y="211.9" font-size="10.5" text-anchor="start" textLength="24.7" lengthAdjust="spacingAndGlyphs">(6%)</text>
<line x1="124" y1="220.4" x2="135.4" y2="220.4" stroke="#3ee03e" stroke-width="1.6"/>
<text x="141.2" y="224.6" font-size="10.5" text-anchor="start" textLength="32.2" lengthAdjust="spacingAndGlyphs">Doping</text>
<text x="177.0" y="224.6" font-size="10.5" text-anchor="start" textLength="29.8" lengthAdjust="spacingAndGlyphs">(11%)</text>
<line x1="124" y1="233.2" x2="135.4" y2="233.2" stroke="#2424b4" stroke-width="1.6"/>
<text x="141.2" y="237.4" font-size="10.5" text-anchor="start" textLength="32.2" lengthAdjust="spacingAndGlyphs">Doping</text>
<text x="177.0" y="237.4" font-size="10.5" text-anchor="start" textLength="29.8" lengthAdjust="spacingAndGlyphs">(17%)</text>
<polyline points="272.00,302.9 272.50,302.9 273.00,302.8 273.50,302.8 274.00,302.8 274.50,302.8 275.00,302.7 275.50,302.7 276.00,302.7 276.50,302.7 277.00,302.6 277.50,302.6 278.00,302.6 278.50,302.5 279.00,302.5 279.50,302.5 280.00,302.4 280.50,302.4 281.00,302.4 281.50,302.3 282.00,302.3 282.50,302.3 283.00,302.2 283.50,302.2 284.00,302.2 284.50,302.1 285.00,302.1 285.50,302.0 286.00,302.0 286.50,301.9 287.00,301.9 287.50,301.9 288.00,301.8 288.50,301.8 289.00,301.7 289.50,301.7 290.00,301.6 290.50,301.6 291.00,301.5 291.50,301.4 292.00,301.4 292.50,301.3 293.00,301.3 293.50,301.2 294.00,301.1 294.50,301.1 295.00,301.0 295.50,300.9 296.00,300.8 296.50,300.8 297.00,300.7 297.50,300.6 298.00,300.5 298.50,300.4 299.00,300.3 299.50,300.2 300.00,300.1 300.50,300.1 301.00,299.9 301.50,299.8 302.00,299.7 302.50,299.6 303.00,299.5 303.50,299.4 304.00,299.3 304.50,299.1 305.00,299.0 305.50,298.8 306.00,298.7 306.50,298.5 307.00,298.4 307.50,298.2 308.00,298.1 308.50,297.9 309.00,297.7 309.50,297.5 310.00,297.3 310.50,297.1 311.00,296.9 311.50,296.6 312.00,296.4 312.50,296.2 313.00,295.9 313.50,295.6 314.00,295.4 314.50,295.1 315.00,294.8 315.50,294.4 316.00,294.1 316.50,293.7 317.00,293.4 317.50,293.0 318.00,292.6 318.50,292.2 319.00,291.7 319.50,291.2 320.00,290.7 320.50,290.2 321.00,289.7 321.50,289.1 322.00,288.5 322.50,287.8 323.00,287.1 323.50,286.4 324.00,285.7 324.50,284.8 325.00,284.0 325.50,283.1 326.00,282.2 326.50,281.1 327.00,280.1 327.50,279.0 328.00,277.8 328.50,276.5 329.00,275.2 329.50,273.8 330.00,272.3 330.50,270.8 331.00,269.2 331.50,267.5 332.00,265.7 332.50,263.8 333.00,261.9 333.50,259.9 334.00,257.8 334.50,255.7 335.00,253.5 335.50,251.3 336.00,249.1 336.50,246.9 337.00,244.8 337.50,242.7 338.00,240.7 338.50,238.9 339.00,237.2 339.50,235.7 340.00,234.5 340.50,233.6 341.00,232.9 341.50,232.6 342.00,232.5 342.50,232.8 343.00,233.4 343.50,234.2 344.00,235.4 344.50,236.7 345.00,238.3 345.50,240.1 346.00,242.0 346.50,244.0 347.00,246.1 347.50,248.2 348.00,250.3 348.50,252.5 349.00,254.7 349.50,256.8 350.00,258.8 350.50,260.8 351.00,262.8 351.50,264.6 352.00,266.4 352.50,268.2 353.00,269.8 353.50,271.4 354.00,272.9 354.50,274.3 355.00,275.6 355.50,276.9 356.00,278.1 356.50,279.3 357.00,280.3 357.50,281.4 358.00,282.3 358.50,283.3 359.00,284.1 359.50,285.0 360.00,285.7 360.50,286.5 361.00,287.2 361.50,287.9 362.00,288.5 362.50,289.1 363.00,289.7 363.50,290.2 364.00,290.7 364.50,291.2 365.00,291.7 365.50,292.1 366.00,292.5 366.50,292.9 367.00,293.3 367.50,293.7 368.00,294.0 368.50,294.4 369.00,294.7 369.50,295.0 370.00,295.3 370.50,295.6 371.00,295.8 371.50,296.1 372.00,296.3 372.50,296.6 373.00,296.8 373.50,297.0 374.00,297.2 374.50,297.4 375.00,297.6 375.50,297.8 376.00,298.0 376.50,298.1 377.00,298.3 377.50,298.5 378.00,298.6 378.50,298.8 379.00,298.9 379.50,299.0 380.00,299.2 380.50,299.3 381.00,299.4 381.50,299.5 382.00,299.7 382.50,299.8 383.00,299.9 383.50,300.0 384.00,300.1 384.50,300.2 385.00,300.3 385.50,300.4 386.00,300.4 386.50,300.5 387.00,300.6 387.50,300.7 388.00,300.8 388.50,300.8 389.00,300.9 389.50,301.0 390.00,301.1 390.50,301.1 391.00,301.2 391.50,301.3 392.00,301.3 392.50,301.4 393.00,301.4 393.50,301.5 394.00,301.5 394.50,301.6 395.00,301.7 395.50,301.7 396.00,301.8 396.50,301.8 397.00,301.8 397.50,301.9 398.00,301.9 398.50,302.0 399.00,302.0 399.50,302.1 400.00,302.1 400.50,302.1 401.00,302.2 401.50,302.2 402.00,302.3 402.50,302.3 403.00,302.3 403.50,302.4 404.00,302.4 404.50,302.4 405.00,302.5 405.50,302.5 406.00,302.5 406.50,302.5 407.00,302.6 407.50,302.6 408.00,302.6 408.50,302.7 409.00,302.7 409.50,302.7 410.00,302.7 410.50,302.8 411.00,302.8 411.50,302.8 412.00,302.8 412.50,302.9 413.00,302.9 413.50,302.9 414.00,302.9 414.50,302.9 415.00,303.0 415.50,303.0 416.00,303.0 416.50,303.0 417.00,303.0 417.50,303.1 418.00,303.1 418.50,303.1 419.00,303.1 419.50,303.1 420.00,303.2 420.50,303.2 421.00,303.2 421.50,303.2 422.00,303.2 422.50,303.2 423.00,303.2 423.50,303.3 424.00,303.3 424.50,303.3 425.00,303.3 425.50,303.3 426.00,303.3 426.50,303.3 427.00,303.4 427.50,303.4 428.00,303.4 428.50,303.4 429.00,303.4 429.50,303.4 430.00,303.4 430.50,303.4 431.00,303.5 431.50,303.5 432.00,303.5 432.50,303.5 433.00,303.5 433.50,303.5 434.00,303.5 434.50,303.5 435.00,303.5 435.50,303.6 436.00,303.6 436.50,303.6 437.00,303.6 437.50,303.6 438.00,303.6 438.50,303.6 439.00,303.6 439.50,303.6 440.00,303.6 440.50,303.6 441.00,303.7" fill="none" stroke="#2424b4" stroke-width="1.25" stroke-linejoin="round"/>
<polyline points="272.00,303.1 272.50,303.0 273.00,303.0 273.50,303.0 274.00,303.0 274.50,303.0 275.00,302.9 275.50,302.9 276.00,302.9 276.50,302.9 277.00,302.8 277.50,302.8 278.00,302.8 278.50,302.8 279.00,302.7 279.50,302.7 280.00,302.7 280.50,302.7 281.00,302.6 281.50,302.6 282.00,302.6 282.50,302.5 283.00,302.5 283.50,302.5 284.00,302.5 284.50,302.4 285.00,302.4 285.50,302.3 286.00,302.3 286.50,302.3 287.00,302.2 287.50,302.2 288.00,302.2 288.50,302.1 289.00,302.1 289.50,302.0 290.00,302.0 290.50,301.9 291.00,301.9 291.50,301.8 292.00,301.8 292.50,301.7 293.00,301.7 293.50,301.6 294.00,301.6 294.50,301.5 295.00,301.5 295.50,301.4 296.00,301.3 296.50,301.3 297.00,301.2 297.50,301.1 298.00,301.1 298.50,301.0 299.00,300.9 299.50,300.8 300.00,300.8 300.50,300.7 301.00,300.6 301.50,300.5 302.00,300.4 302.50,300.3 303.00,300.2 303.50,300.1 304.00,300.0 304.50,299.9 305.00,299.8 305.50,299.7 306.00,299.6 306.50,299.4 307.00,299.3 307.50,299.2 308.00,299.0 308.50,298.9 309.00,298.7 309.50,298.6 310.00,298.4 310.50,298.3 311.00,298.1 311.50,297.9 312.00,297.7 312.50,297.5 313.00,297.3 313.50,297.1 314.00,296.9 314.50,296.6 315.00,296.4 315.50,296.1 316.00,295.8 316.50,295.6 317.00,295.3 317.50,295.0 318.00,294.6 318.50,294.3 319.00,293.9 319.50,293.6 320.00,293.2 320.50,292.8 321.00,292.3 321.50,291.9 322.00,291.4 322.50,290.9 323.00,290.3 323.50,289.8 324.00,289.2 324.50,288.5 325.00,287.9 325.50,287.1 326.00,286.4 326.50,285.6 327.00,284.8 327.50,283.9 328.00,282.9 328.50,281.9 329.00,280.9 329.50,279.8 330.00,278.6 330.50,277.3 331.00,276.0 331.50,274.6 332.00,273.1 332.50,271.5 333.00,269.9 333.50,268.1 334.00,266.3 334.50,264.4 335.00,262.4 335.50,260.3 336.00,258.2 336.50,256.0 337.00,253.7 337.50,251.5 338.00,249.2 338.50,246.9 339.00,244.7 339.50,242.5 340.00,240.5 340.50,238.6 341.00,236.9 341.50,235.4 342.00,234.2 342.50,233.3 343.00,232.7 343.50,232.5 344.00,232.6 344.50,233.0 345.00,233.6 345.50,234.5 346.00,235.7 346.50,237.1 347.00,238.7 347.50,240.4 348.00,242.3 348.50,244.2 349.00,246.3 349.50,248.4 350.00,250.5 350.50,252.6 351.00,254.7 351.50,256.7 352.00,258.7 352.50,260.7 353.00,262.6 353.50,264.4 354.00,266.2 354.50,267.8 355.00,269.5 355.50,271.0 356.00,272.5 356.50,273.9 357.00,275.2 357.50,276.5 358.00,277.7 358.50,278.8 359.00,279.9 359.50,280.9 360.00,281.9 360.50,282.8 361.00,283.7 361.50,284.5 362.00,285.3 362.50,286.0 363.00,286.7 363.50,287.4 364.00,288.1 364.50,288.7 365.00,289.2 365.50,289.8 366.00,290.3 366.50,290.8 367.00,291.3 367.50,291.7 368.00,292.2 368.50,292.6 369.00,293.0 369.50,293.3 370.00,293.7 370.50,294.0 371.00,294.3 371.50,294.7 372.00,295.0 372.50,295.2 373.00,295.5 373.50,295.8 374.00,296.0 374.50,296.3 375.00,296.5 375.50,296.7 376.00,296.9 376.50,297.1 377.00,297.3 377.50,297.5 378.00,297.7 378.50,297.9 379.00,298.1 379.50,298.2 380.00,298.4 380.50,298.5 381.00,298.7 381.50,298.8 382.00,298.9 382.50,299.1 383.00,299.2 383.50,299.3 384.00,299.4 384.50,299.6 385.00,299.7 385.50,299.8 386.00,299.9 386.50,300.0 387.00,300.1 387.50,300.2 388.00,300.3 388.50,300.4 389.00,300.4 389.50,300.5 390.00,300.6 390.50,300.7 391.00,300.8 391.50,300.8 392.00,300.9 392.50,301.0 393.00,301.0 393.50,301.1 394.00,301.2 394.50,301.2 395.00,301.3 395.50,301.4 396.00,301.4 396.50,301.5 397.00,301.5 397.50,301.6 398.00,301.6 398.50,301.7 399.00,301.7 399.50,301.8 400.00,301.8 400.50,301.9 401.00,301.9 401.50,301.9 402.00,302.0 402.50,302.0 403.00,302.1 403.50,302.1 404.00,302.1 404.50,302.2 405.00,302.2 405.50,302.3 406.00,302.3 406.50,302.3 407.00,302.4 407.50,302.4 408.00,302.4 408.50,302.5 409.00,302.5 409.50,302.5 410.00,302.5 410.50,302.6 411.00,302.6 411.50,302.6 412.00,302.7 412.50,302.7 413.00,302.7 413.50,302.7 414.00,302.8 414.50,302.8 415.00,302.8 415.50,302.8 416.00,302.8 416.50,302.9 417.00,302.9 417.50,302.9 418.00,302.9 418.50,303.0 419.00,303.0 419.50,303.0 420.00,303.0 420.50,303.0 421.00,303.0 421.50,303.1 422.00,303.1 422.50,303.1 423.00,303.1 423.50,303.1 424.00,303.2 424.50,303.2 425.00,303.2 425.50,303.2 426.00,303.2 426.50,303.2 427.00,303.2 427.50,303.3 428.00,303.3 428.50,303.3 429.00,303.3 429.50,303.3 430.00,303.3 430.50,303.3 431.00,303.4 431.50,303.4 432.00,303.4 432.50,303.4 433.00,303.4 433.50,303.4 434.00,303.4 434.50,303.4 435.00,303.5 435.50,303.5 436.00,303.5 436.50,303.5 437.00,303.5 437.50,303.5 438.00,303.5 438.50,303.5 439.00,303.5 439.50,303.5 440.00,303.6 440.50,303.6 441.00,303.6" fill="none" stroke="#d02a2a" stroke-width="1.25" stroke-linejoin="round"/>
<polyline points="272.00,303.1 272.50,303.0 273.00,303.0 273.50,303.0 274.00,303.0 274.50,303.0 275.00,302.9 275.50,302.9 276.00,302.9 276.50,302.9 277.00,302.9 277.50,302.8 278.00,302.8 278.50,302.8 279.00,302.8 279.50,302.7 280.00,302.7 280.50,302.7 281.00,302.7 281.50,302.6 282.00,302.6 282.50,302.6 283.00,302.5 283.50,302.5 284.00,302.5 284.50,302.4 285.00,302.4 285.50,302.4 286.00,302.4 286.50,302.3 287.00,302.3 287.50,302.2 288.00,302.2 288.50,302.2 289.00,302.1 289.50,302.1 290.00,302.0 290.50,302.0 291.00,302.0 291.50,301.9 292.00,301.9 292.50,301.8 293.00,301.8 293.50,301.7 294.00,301.7 294.50,301.6 295.00,301.6 295.50,301.5 296.00,301.5 296.50,301.4 297.00,301.3 297.50,301.3 298.00,301.2 298.50,301.2 299.00,301.1 299.50,301.0 300.00,301.0 300.50,300.9 301.00,300.8 301.50,300.7 302.00,300.6 302.50,300.6 303.00,300.5 303.50,300.4 304.00,300.3 304.50,300.2 305.00,300.1 305.50,300.0 306.00,299.9 306.50,299.8 307.00,299.7 307.50,299.6 308.00,299.5 308.50,299.3 309.00,299.2 309.50,299.1 310.00,298.9 310.50,298.8 311.00,298.7 311.50,298.5 312.00,298.3 312.50,298.2 313.00,298.0 313.50,297.8 314.00,297.7 314.50,297.5 315.00,297.3 315.50,297.1 316.00,296.8 316.50,296.6 317.00,296.4 317.50,296.1 318.00,295.9 318.50,295.6 319.00,295.3 319.50,295.0 320.00,294.7 320.50,294.4 321.00,294.1 321.50,293.7 322.00,293.4 322.50,293.0 323.00,292.6 323.50,292.1 324.00,291.7 324.50,291.2 325.00,290.7 325.50,290.2 326.00,289.7 326.50,289.1 327.00,288.5 327.50,287.8 328.00,287.2 328.50,286.5 329.00,285.7 329.50,284.9 330.00,284.1 330.50,283.2 331.00,282.3 331.50,281.3 332.00,280.2 332.50,279.1 333.00,278.0 333.50,276.7 334.00,275.4 334.50,274.1 335.00,272.6 335.50,271.1 336.00,269.5 336.50,267.8 337.00,266.1 337.50,264.2 338.00,262.3 338.50,260.4 339.00,258.3 339.50,256.2 340.00,254.1 340.50,251.9 341.00,249.7 341.50,247.5 342.00,245.4 342.50,243.3 343.00,241.3 343.50,239.5 344.00,237.7 344.50,236.2 345.00,234.9 345.50,233.9 346.00,233.1 346.50,232.7 347.00,232.5 347.50,232.7 348.00,233.1 348.50,233.9 349.00,234.9 349.50,236.2 350.00,237.7 350.50,239.5 351.00,241.3 351.50,243.3 352.00,245.4 352.50,247.5 353.00,249.7 353.50,251.9 354.00,254.1 354.50,256.2 355.00,258.3 355.50,260.4 356.00,262.3 356.50,264.2 357.00,266.1 357.50,267.8 358.00,269.5 358.50,271.1 359.00,272.6 359.50,274.1 360.00,275.4 360.50,276.7 361.00,278.0 361.50,279.1 362.00,280.2 362.50,281.3 363.00,282.3 363.50,283.2 364.00,284.1 364.50,284.9 365.00,285.7 365.50,286.5 366.00,287.2 366.50,287.8 367.00,288.5 367.50,289.1 368.00,289.7 368.50,290.2 369.00,290.7 369.50,291.2 370.00,291.7 370.50,292.1 371.00,292.6 371.50,293.0 372.00,293.4 372.50,293.7 373.00,294.1 373.50,294.4 374.00,294.7 374.50,295.0 375.00,295.3 375.50,295.6 376.00,295.9 376.50,296.1 377.00,296.4 377.50,296.6 378.00,296.8 378.50,297.1 379.00,297.3 379.50,297.5 380.00,297.7 380.50,297.8 381.00,298.0 381.50,298.2 382.00,298.3 382.50,298.5 383.00,298.7 383.50,298.8 384.00,298.9 384.50,299.1 385.00,299.2 385.50,299.3 386.00,299.5 386.50,299.6 387.00,299.7 387.50,299.8 388.00,299.9 388.50,300.0 389.00,300.1 389.50,300.2 390.00,300.3 390.50,300.4 391.00,300.5 391.50,300.6 392.00,300.6 392.50,300.7 393.00,300.8 393.50,300.9 394.00,301.0 394.50,301.0 395.00,301.1 395.50,301.2 396.00,301.2 396.50,301.3 397.00,301.3 397.50,301.4 398.00,301.5 398.50,301.5 399.00,301.6 399.50,301.6 400.00,301.7 400.50,301.7 401.00,301.8 401.50,301.8 402.00,301.9 402.50,301.9 403.00,302.0 403.50,302.0 404.00,302.0 404.50,302.1 405.00,302.1 405.50,302.2 406.00,302.2 406.50,302.2 407.00,302.3 407.50,302.3 408.00,302.4 408.50,302.4 409.00,302.4 409.50,302.4 410.00,302.5 410.50,302.5 411.00,302.5 411.50,302.6 412.00,302.6 412.50,302.6 413.00,302.7 413.50,302.7 414.00,302.7 414.50,302.7 415.00,302.8 415.50,302.8 416.00,302.8 416.50,302.8 417.00,302.9 417.50,302.9 418.00,302.9 418.50,302.9 419.00,302.9 419.50,303.0 420.00,303.0 420.50,303.0 421.00,303.0 421.50,303.0 422.00,303.1 422.50,303.1 423.00,303.1 423.50,303.1 424.00,303.1 424.50,303.2 425.00,303.2 425.50,303.2 426.00,303.2 426.50,303.2 427.00,303.2 427.50,303.3 428.00,303.3 428.50,303.3 429.00,303.3 429.50,303.3 430.00,303.3 430.50,303.3 431.00,303.4 431.50,303.4 432.00,303.4 432.50,303.4 433.00,303.4 433.50,303.4 434.00,303.4 434.50,303.4 435.00,303.5 435.50,303.5 436.00,303.5 436.50,303.5 437.00,303.5 437.50,303.5 438.00,303.5 438.50,303.5 439.00,303.5 439.50,303.5 440.00,303.6 440.50,303.6 441.00,303.6" fill="none" stroke="#111111" stroke-width="1.25" stroke-linejoin="round"/>
<rect x="271.5" y="196.5" width="170.0" height="108.0" fill="none" stroke="#000" stroke-width="1"/>
<line x1="267.0" y1="304.5" x2="271.5" y2="304.5" stroke="#000" stroke-width="1"/>
<text x="266.2" y="309.3" font-size="12" text-anchor="end">0.0</text>
<line x1="267.0" y1="268.5" x2="271.5" y2="268.5" stroke="#000" stroke-width="1"/>
<text x="266.2" y="273.3" font-size="12" text-anchor="end">0.5</text>
<line x1="267.0" y1="232.5" x2="271.5" y2="232.5" stroke="#000" stroke-width="1"/>
<text x="266.2" y="237.3" font-size="12" text-anchor="end">1.0</text>
<line x1="267.0" y1="196.5" x2="271.5" y2="196.5" stroke="#000" stroke-width="1"/>
<text x="266.2" y="201.3" font-size="12" text-anchor="end">1.5</text>
<line x1="271.5" y1="304.5" x2="271.5" y2="309.0" stroke="#000" stroke-width="1"/>
<text x="271.5" y="323.5" font-size="12" text-anchor="middle">-50</text>
<line x1="314.0" y1="304.5" x2="314.0" y2="309.0" stroke="#000" stroke-width="1"/>
<text x="314.0" y="323.5" font-size="12" text-anchor="middle">-25</text>
<line x1="356.5" y1="304.5" x2="356.5" y2="309.0" stroke="#000" stroke-width="1"/>
<text x="356.5" y="323.5" font-size="12" text-anchor="middle">0</text>
<line x1="399.0" y1="304.5" x2="399.0" y2="309.0" stroke="#000" stroke-width="1"/>
<text x="399.0" y="323.5" font-size="12" text-anchor="middle">25</text>
<line x1="441.5" y1="304.5" x2="441.5" y2="309.0" stroke="#000" stroke-width="1"/>
<text x="441.5" y="323.5" font-size="12" text-anchor="middle">50</text>
<text x="356.5" y="339.8" font-size="12" text-anchor="middle" textLength="64" lengthAdjust="spacingAndGlyphs">Energy (eV)</text>
<text x="0" y="0" font-size="12" text-anchor="middle" textLength="106.5" lengthAdjust="spacingAndGlyphs" transform="translate(244.0,247.8) rotate(-90)">Intensity (arb.units)</text>
<text x="389.8" y="193" font-size="9" textLength="48.3" lengthAdjust="spacingAndGlyphs">Cs-Emission</text>
<rect x="274.5" y="199.5" width="20.0" height="19.0" fill="#fff" stroke="#111" stroke-width="1"/>
<text x="276.65" y="213.8" font-size="12" text-anchor="start" textLength="16.5" lengthAdjust="spacingAndGlyphs">(d)</text>
<line x1="354" y1="205.2" x2="365.4" y2="205.2" stroke="#111111" stroke-width="1.6"/>
<text x="371.9" y="209.4" font-size="10.5" text-anchor="start" textLength="32.2" lengthAdjust="spacingAndGlyphs">Doping</text>
<text x="407.7" y="209.4" font-size="10.5" text-anchor="start" textLength="24.7" lengthAdjust="spacingAndGlyphs">(0%)</text>
<line x1="354" y1="217.9" x2="365.4" y2="217.9" stroke="#d02a2a" stroke-width="1.6"/>
<text x="371.9" y="222.1" font-size="10.5" text-anchor="start" textLength="32.2" lengthAdjust="spacingAndGlyphs">Doping</text>
<text x="407.7" y="222.1" font-size="10.5" text-anchor="start" textLength="24.7" lengthAdjust="spacingAndGlyphs">(6%)</text>
<line x1="354" y1="230.6" x2="365.4" y2="230.6" stroke="#3ee03e" stroke-width="1.6"/>
<text x="371.9" y="234.8" font-size="10.5" text-anchor="start" textLength="32.2" lengthAdjust="spacingAndGlyphs">Doping</text>
<text x="407.7" y="234.8" font-size="10.5" text-anchor="start" textLength="29.8" lengthAdjust="spacingAndGlyphs">(11%)</text>
<line x1="354" y1="243.2" x2="365.4" y2="243.2" stroke="#2424b4" stroke-width="1.6"/>
<text x="371.9" y="247.4" font-size="10.5" text-anchor="start" textLength="32.2" lengthAdjust="spacingAndGlyphs">Doping</text>
<text x="407.7" y="247.4" font-size="10.5" text-anchor="start" textLength="29.8" lengthAdjust="spacingAndGlyphs">(17%)</text>
<polyline points="507.00,304.2 507.50,304.2 508.00,304.2 508.50,304.2 509.00,304.2 509.50,304.1 510.00,304.1 510.50,304.1 511.00,304.1 511.50,304.1 512.00,304.1 512.50,304.1 513.00,304.0 513.50,304.0 514.00,304.0 514.50,304.0 515.00,304.0 515.50,304.0 516.00,303.9 516.50,303.9 517.00,303.9 517.50,303.9 518.00,303.9 518.50,303.9 519.00,303.8 519.50,303.8 520.00,303.8 520.50,303.8 521.00,303.8 521.50,303.7 522.00,303.7 522.50,303.7 523.00,303.7 523.50,303.6 524.00,303.6 524.50,303.6 525.00,303.6 525.50,303.5 526.00,303.5 526.50,303.5 527.00,303.5 527.50,303.4 528.00,303.4 528.50,303.4 529.00,303.4 529.50,303.3 530.00,303.3 530.50,303.3 531.00,303.3 531.50,303.2 532.00,303.2 532.50,303.2 533.00,303.2 533.50,303.2 534.00,303.1 534.50,303.1 535.00,303.1 535.50,303.1 536.00,303.0 536.50,303.0 537.00,303.0 537.50,303.0 538.00,302.9 538.50,302.9 539.00,302.9 539.50,302.8 540.00,302.8 540.50,302.8 541.00,302.7 541.50,302.6 542.00,302.5 542.50,302.4 543.00,302.3 543.50,302.2 544.00,302.1 544.50,302.0 545.00,301.9 545.50,301.8 546.00,301.6 546.50,301.5 547.00,301.4 547.50,301.3 548.00,301.1 548.50,301.0 549.00,300.8 549.50,300.7 550.00,300.5 550.50,300.3 551.00,300.2 551.50,300.0 552.00,299.8 552.50,299.6 553.00,299.4 553.50,299.2 554.00,299.0 554.50,298.7 555.00,298.5 555.50,298.2 556.00,298.0 556.50,297.7 557.00,297.4 557.50,297.1 558.00,296.8 558.50,296.4 559.00,296.1 559.50,295.8 560.00,295.4 560.50,295.1 561.00,294.8 561.50,294.4 562.00,294.1 562.50,293.7 563.00,293.4 563.50,293.0 564.00,292.6 564.50,292.3 565.00,291.9 565.50,291.5 566.00,291.1 566.50,290.6 567.00,290.2 567.50,289.7 568.00,289.2 568.50,288.7 569.00,288.2 569.50,287.7 570.00,287.1 570.50,286.5 571.00,285.8 571.50,285.1 572.00,284.3 572.50,283.4 573.00,282.3 573.50,281.1 574.00,279.7 574.50,278.3 575.00,276.6 575.50,274.5 576.00,272.1 576.50,269.4 577.00,266.6 577.50,263.7 578.00,260.6 578.50,257.2 579.00,253.8 579.50,250.3 580.00,246.5 580.50,242.9 581.00,240.0 581.50,237.7 582.00,235.9 582.50,234.5 583.00,233.3 583.50,232.6 584.00,232.7 584.50,233.7 585.00,235.0 585.50,236.8 586.00,239.1 586.50,241.3 587.00,243.6 587.50,246.2 588.00,249.3 588.50,252.9 589.00,256.6 589.50,260.1 590.00,263.5 590.50,266.9 591.00,270.0 591.50,272.7 592.00,275.1 592.50,277.4 593.00,279.4 593.50,281.3 594.00,283.0 594.50,284.6 595.00,286.0 595.50,287.3 596.00,288.5 596.50,289.6 597.00,290.6 597.50,291.6 598.00,292.5 598.50,293.2 599.00,293.9 599.50,294.5 600.00,295.1 600.50,295.7 601.00,296.2 601.50,296.7 602.00,297.1 602.50,297.5 603.00,297.8 603.50,298.1 604.00,298.4 604.50,298.7 605.00,298.9 605.50,299.1 606.00,299.4 606.50,299.6 607.00,299.8 607.50,299.9 608.00,300.1 608.50,300.3 609.00,300.4 609.50,300.6 610.00,300.7 610.50,300.8 611.00,301.0 611.50,301.1 612.00,301.2 612.50,301.3 613.00,301.4 613.50,301.5 614.00,301.6 614.50,301.7 615.00,301.8 615.50,301.9 616.00,302.0 616.50,302.1 617.00,302.2 617.50,302.2 618.00,302.3 618.50,302.4 619.00,302.4 619.50,302.5 620.00,302.5 620.50,302.6 621.00,302.7 621.50,302.7 622.00,302.8 622.50,302.8 623.00,302.9 623.50,302.9 624.00,303.0 624.50,303.0 625.00,303.1 625.50,303.1 626.00,303.2 626.50,303.2 627.00,303.2 627.50,303.3 628.00,303.3 628.50,303.3 629.00,303.4 629.50,303.4 630.00,303.4 630.50,303.4 631.00,303.5 631.50,303.5 632.00,303.5 632.50,303.5 633.00,303.5 633.50,303.6 634.00,303.6 634.50,303.6 635.00,303.6 635.50,303.6 636.00,303.7 636.50,303.7 637.00,303.7 637.50,303.7 638.00,303.7 638.50,303.7 639.00,303.8 639.50,303.8 640.00,303.8 640.50,303.8 641.00,303.8 641.50,303.8 642.00,303.8 642.50,303.9 643.00,303.9 643.50,303.9 644.00,303.9 644.50,303.9 645.00,303.9 645.50,303.9 646.00,303.9 646.50,303.9 647.00,303.9 647.50,303.9 648.00,303.9 648.50,304.0 649.00,304.0 649.50,304.0 650.00,304.0 650.50,304.0 651.00,304.0 651.50,304.0 652.00,304.0 652.50,304.0 653.00,304.0 653.50,304.0 654.00,304.0 654.50,304.0 655.00,304.0 655.50,304.1 656.00,304.1 656.50,304.1 657.00,304.1 657.50,304.1 658.00,304.1 658.50,304.1 659.00,304.1 659.50,304.1 660.00,304.1 660.50,304.1 661.00,304.1 661.50,304.1 662.00,304.1 662.50,304.1 663.00,304.1" fill="none" stroke="#2424b4" stroke-width="1.25" stroke-linejoin="round"/>
<polyline points="507.40,304.2 507.90,304.2 508.40,304.2 508.90,304.2 509.40,304.2 509.90,304.1 510.40,304.1 510.90,304.1 511.40,304.1 511.90,304.1 512.40,304.1 512.90,304.1 513.40,304.0 513.90,304.0 514.40,304.0 514.90,304.0 515.40,304.0 515.90,304.0 516.40,303.9 516.90,303.9 517.40,303.9 517.90,303.9 518.40,303.9 518.90,303.9 519.40,303.8 519.90,303.8 520.40,303.8 520.90,303.8 521.40,303.8 521.90,303.7 522.40,303.7 522.90,303.7 523.40,303.7 523.90,303.6 524.40,303.6 524.90,303.6 525.40,303.6 525.90,303.5 526.40,303.5 526.90,303.5 527.40,303.5 527.90,303.4 528.40,303.4 528.90,303.4 529.40,303.4 529.90,303.3 530.40,303.3 530.90,303.3 531.40,303.3 531.90,303.2 532.40,303.2 532.90,303.2 533.40,303.2 533.90,303.2 534.40,303.1 534.90,303.1 535.40,303.1 535.90,303.1 536.40,303.0 536.90,303.0 537.40,303.0 537.90,303.0 538.40,302.9 538.90,302.9 539.40,302.9 539.90,302.8 540.40,302.8 540.90,302.8 541.40,302.7 541.90,302.6 542.40,302.5 542.90,302.4 543.40,302.3 543.90,302.2 544.40,302.1 544.90,302.0 545.40,301.9 545.90,301.8 546.40,301.6 546.90,301.5 547.40,301.4 547.90,301.3 548.40,301.1 548.90,301.0 549.40,300.8 549.90,300.7 550.40,300.5 550.90,300.3 551.40,300.1 551.90,300.0 552.40,299.8 552.90,299.6 553.40,299.4 553.90,299.2 554.40,299.0 554.90,298.8 555.40,298.5 555.90,298.3 556.40,298.1 556.90,297.8 557.40,297.5 557.90,297.3 558.40,297.0 558.90,296.7 559.40,296.4 559.90,296.1 560.40,295.8 560.90,295.5 561.40,295.2 561.90,294.9 562.40,294.6 562.90,294.2 563.40,293.9 563.90,293.6 564.40,293.2 564.90,292.8 565.40,292.4 565.90,292.1 566.40,291.7 566.90,291.2 567.40,290.8 567.90,290.4 568.40,289.9 568.90,289.4 569.40,288.9 569.90,288.4 570.40,287.9 570.90,287.4 571.40,286.8 571.90,286.1 572.40,285.4 572.90,284.6 573.40,283.7 573.90,282.7 574.40,281.6 574.90,280.3 575.40,278.9 575.90,277.3 576.40,275.4 576.90,273.1 577.40,270.5 577.90,267.7 578.40,264.9 578.90,261.9 579.40,258.6 579.90,255.1 580.40,251.7 580.90,248.0 581.40,244.3 581.90,241.1 582.40,238.6 582.90,236.5 583.40,235.0 583.90,233.8 584.40,232.8 584.90,232.5 585.40,233.2 585.90,234.5 586.40,236.0 586.90,238.1 587.40,240.4 587.90,242.7 588.40,245.1 588.90,248.0 589.40,251.5 589.90,255.1 590.40,258.7 590.90,262.1 591.40,265.6 591.90,268.8 592.40,271.6 592.90,274.2 593.40,276.5 593.90,278.6 594.40,280.5 594.90,282.3 595.40,283.9 595.90,285.4 596.40,286.8 596.90,288.0 597.40,289.2 597.90,290.2 598.40,291.2 598.90,292.1 599.40,292.9 599.90,293.6 600.40,294.3 600.90,294.9 601.40,295.5 601.90,296.0 602.40,296.5 602.90,296.9 603.40,297.3 603.90,297.7 604.40,298.0 604.90,298.3 605.40,298.5 605.90,298.8 606.40,299.0 606.90,299.3 607.40,299.5 607.90,299.7 608.40,299.9 608.90,300.0 609.40,300.2 609.90,300.4 610.40,300.5 610.90,300.7 611.40,300.8 611.90,301.0 612.40,301.1 612.90,301.2 613.40,301.4 613.90,301.5 614.40,301.6 614.90,301.7 615.40,301.8 615.90,301.9 616.40,302.0 616.90,302.1 617.40,302.2 617.90,302.2 618.40,302.3 618.90,302.4 619.40,302.4 619.90,302.5 620.40,302.6 620.90,302.6 621.40,302.7 621.90,302.7 622.40,302.8 622.90,302.8 623.40,302.9 623.90,302.9 624.40,303.0 624.90,303.0 625.40,303.1 625.90,303.1 626.40,303.2 626.90,303.2 627.40,303.2 627.90,303.3 628.40,303.3 628.90,303.3 629.40,303.4 629.90,303.4 630.40,303.4 630.90,303.4 631.40,303.5 631.90,303.5 632.40,303.5 632.90,303.5 633.40,303.5 633.90,303.6 634.40,303.6 634.90,303.6 635.40,303.6 635.90,303.6 636.40,303.7 636.90,303.7 637.40,303.7 637.90,303.7 638.40,303.7 638.90,303.7 639.40,303.8 639.90,303.8 640.40,303.8 640.90,303.8 641.40,303.8 641.90,303.8 642.40,303.8 642.90,303.9 643.40,303.9 643.90,303.9 644.40,303.9 644.90,303.9 645.40,303.9 645.90,303.9 646.40,303.9 646.90,303.9 647.40,303.9 647.90,303.9 648.40,303.9 648.90,304.0 649.40,304.0 649.90,304.0 650.40,304.0 650.90,304.0 651.40,304.0 651.90,304.0 652.40,304.0 652.90,304.0 653.40,304.0 653.90,304.0 654.40,304.0 654.90,304.0 655.40,304.0 655.90,304.1 656.40,304.1 656.90,304.1 657.40,304.1 657.90,304.1 658.40,304.1 658.90,304.1 659.40,304.1 659.90,304.1 660.40,304.1 660.90,304.1 661.40,304.1 661.90,304.1 662.40,304.1 662.90,304.1 663.40,304.1" fill="none" stroke="#d02a2a" stroke-width="1.25" stroke-linejoin="round"/>
<polyline points="507.00,304.3 507.50,304.3 508.00,304.3 508.50,304.3 509.00,304.2 509.50,304.2 510.00,304.2 510.50,304.2 511.00,304.2 511.50,304.2 512.00,304.2 512.50,304.1 513.00,304.1 513.50,304.1 514.00,304.1 514.50,304.1 515.00,304.1 515.50,304.1 516.00,304.0 516.50,304.0 517.00,304.0 517.50,304.0 518.00,304.0 518.50,304.0 519.00,303.9 519.50,303.9 520.00,303.9 520.50,303.9 521.00,303.9 521.50,303.8 522.00,303.8 522.50,303.8 523.00,303.8 523.50,303.8 524.00,303.8 524.50,303.7 525.00,303.7 525.50,303.7 526.00,303.7 526.50,303.7 527.00,303.7 527.50,303.6 528.00,303.6 528.50,303.6 529.00,303.6 529.50,303.6 530.00,303.5 530.50,303.5 531.00,303.5 531.50,303.5 532.00,303.5 532.50,303.4 533.00,303.4 533.50,303.4 534.00,303.4 534.50,303.3 535.00,303.3 535.50,303.3 536.00,303.2 536.50,303.2 537.00,303.2 537.50,303.1 538.00,303.1 538.50,303.1 539.00,303.0 539.50,303.0 540.00,302.9 540.50,302.9 541.00,302.8 541.50,302.8 542.00,302.7 542.50,302.7 543.00,302.6 543.50,302.6 544.00,302.5 544.50,302.4 545.00,302.4 545.50,302.3 546.00,302.2 546.50,302.2 547.00,302.1 547.50,302.0 548.00,301.9 548.50,301.8 549.00,301.7 549.50,301.6 550.00,301.5 550.50,301.4 551.00,301.2 551.50,301.1 552.00,301.0 552.50,300.8 553.00,300.7 553.50,300.6 554.00,300.4 554.50,300.3 555.00,300.1 555.50,299.9 556.00,299.8 556.50,299.6 557.00,299.4 557.50,299.2 558.00,299.0 558.50,298.8 559.00,298.5 559.50,298.3 560.00,298.0 560.50,297.8 561.00,297.5 561.50,297.2 562.00,297.0 562.50,296.7 563.00,296.4 563.50,296.1 564.00,295.8 564.50,295.5 565.00,295.2 565.50,295.0 566.00,294.7 566.50,294.4 567.00,294.1 567.50,293.8 568.00,293.6 568.50,293.3 569.00,292.9 569.50,292.6 570.00,292.3 570.50,291.9 571.00,291.6 571.50,291.2 572.00,290.7 572.50,290.3 573.00,289.9 573.50,289.4 574.00,288.8 574.50,288.3 575.00,287.6 575.50,286.9 576.00,286.2 576.50,285.3 577.00,284.1 577.50,282.8 578.00,281.4 578.50,279.7 579.00,278.0 579.50,276.2 580.00,274.0 580.50,271.5 581.00,268.9 581.50,266.1 582.00,263.0 582.50,259.6 583.00,255.9 583.50,252.4 584.00,248.9 584.50,245.3 585.00,242.1 585.50,239.6 586.00,237.6 586.50,236.0 587.00,234.8 587.50,233.6 588.00,232.8 588.50,232.5 589.00,233.3 589.50,234.9 590.00,236.9 590.50,240.5 591.00,244.7 591.50,248.2 592.00,251.5 592.50,254.8 593.00,258.0 593.50,261.6 594.00,265.4 594.50,268.9 595.00,271.6 595.50,273.6 596.00,275.4 596.50,277.0 597.00,278.5 597.50,280.1 598.00,281.8 598.50,283.4 599.00,284.9 599.50,286.3 600.00,287.5 600.50,288.6 601.00,289.5 601.50,290.5 602.00,291.3 602.50,292.1 603.00,292.8 603.50,293.4 604.00,294.0 604.50,294.5 605.00,295.0 605.50,295.5 606.00,295.9 606.50,296.4 607.00,296.8 607.50,297.1 608.00,297.4 608.50,297.7 609.00,298.0 609.50,298.3 610.00,298.5 610.50,298.8 611.00,299.0 611.50,299.2 612.00,299.4 612.50,299.6 613.00,299.7 613.50,299.9 614.00,300.1 614.50,300.2 615.00,300.4 615.50,300.5 616.00,300.6 616.50,300.8 617.00,300.9 617.50,301.0 618.00,301.1 618.50,301.3 619.00,301.4 619.50,301.5 620.00,301.6 620.50,301.7 621.00,301.8 621.50,301.9 622.00,302.0 622.50,302.1 623.00,302.1 623.50,302.2 624.00,302.3 624.50,302.3 625.00,302.4 625.50,302.5 626.00,302.5 626.50,302.6 627.00,302.6 627.50,302.7 628.00,302.7 628.50,302.8 629.00,302.8 629.50,302.9 630.00,302.9 630.50,303.0 631.00,303.0 631.50,303.1 632.00,303.1 632.50,303.1 633.00,303.2 633.50,303.2 634.00,303.2 634.50,303.3 635.00,303.3 635.50,303.3 636.00,303.4 636.50,303.4 637.00,303.4 637.50,303.4 638.00,303.5 638.50,303.5 639.00,303.5 639.50,303.5 640.00,303.6 640.50,303.6 641.00,303.6 641.50,303.6 642.00,303.6 642.50,303.7 643.00,303.7 643.50,303.7 644.00,303.7 644.50,303.7 645.00,303.8 645.50,303.8 646.00,303.8 646.50,303.8 647.00,303.8 647.50,303.8 648.00,303.9 648.50,303.9 649.00,303.9 649.50,303.9 650.00,303.9 650.50,303.9 651.00,303.9 651.50,303.9 652.00,303.9 652.50,304.0 653.00,304.0 653.50,304.0 654.00,304.0 654.50,304.0 655.00,304.0 655.50,304.0 656.00,304.0 656.50,304.0 657.00,304.0 657.50,304.0 658.00,304.1 658.50,304.1 659.00,304.1 659.50,304.1 660.00,304.1 660.50,304.1 661.00,304.1 661.50,304.1 662.00,304.1 662.50,304.1 663.00,304.1" fill="none" stroke="#111111" stroke-width="1.25" stroke-linejoin="round"/>
<rect x="506.5" y="196.5" width="170.0" height="108.0" fill="none" stroke="#000" stroke-width="1"/>
<line x1="502.0" y1="304.5" x2="506.5" y2="304.5" stroke="#000" stroke-width="1"/>
<text x="501.2" y="309.3" font-size="12" text-anchor="end">0.0</text>
<line x1="502.0" y1="268.5" x2="506.5" y2="268.5" stroke="#000" stroke-width="1"/>
<text x="501.2" y="273.3" font-size="12" text-anchor="end">0.5</text>
<line x1="502.0" y1="232.5" x2="506.5" y2="232.5" stroke="#000" stroke-width="1"/>
<text x="501.2" y="237.3" font-size="12" text-anchor="end">1.0</text>
<line x1="502.0" y1="196.5" x2="506.5" y2="196.5" stroke="#000" stroke-width="1"/>
<text x="501.2" y="201.3" font-size="12" text-anchor="end">1.5</text>
<line x1="506.5" y1="304.5" x2="506.5" y2="309.0" stroke="#000" stroke-width="1"/>
<text x="506.5" y="323.5" font-size="12" text-anchor="middle">-50</text>
<line x1="549.0" y1="304.5" x2="549.0" y2="309.0" stroke="#000" stroke-width="1"/>
<text x="549.0" y="323.5" font-size="12" text-anchor="middle">-25</text>
<line x1="591.5" y1="304.5" x2="591.5" y2="309.0" stroke="#000" stroke-width="1"/>
<text x="591.5" y="323.5" font-size="12" text-anchor="middle">0</text>
<line x1="634.0" y1="304.5" x2="634.0" y2="309.0" stroke="#000" stroke-width="1"/>
<text x="634.0" y="323.5" font-size="12" text-anchor="middle">25</text>
<line x1="676.5" y1="304.5" x2="676.5" y2="309.0" stroke="#000" stroke-width="1"/>
<text x="676.5" y="323.5" font-size="12" text-anchor="middle">50</text>
<text x="591.5" y="339.8" font-size="12" text-anchor="middle" textLength="64" lengthAdjust="spacingAndGlyphs">Energy (eV)</text>
<text x="0" y="0" font-size="12" text-anchor="middle" textLength="106.5" lengthAdjust="spacingAndGlyphs" transform="translate(479.0,247.8) rotate(-90)">Intensity (arb.units)</text>
<text x="624.3000000000001" y="193" font-size="9" textLength="48.3" lengthAdjust="spacingAndGlyphs">Cd-Emission</text>
<rect x="509.5" y="199.5" width="20.0" height="19.0" fill="#fff" stroke="#111" stroke-width="1"/>
<text x="511.95" y="214.1" font-size="12" text-anchor="start" textLength="15.5" lengthAdjust="spacingAndGlyphs">(e)</text>
<line x1="590.9" y1="203.3" x2="602.2" y2="203.3" stroke="#111111" stroke-width="1.6"/>
<text x="608.8" y="207.5" font-size="10.5" text-anchor="start" textLength="32.2" lengthAdjust="spacingAndGlyphs">Doping</text>
<text x="644.6" y="207.5" font-size="10.5" text-anchor="start" textLength="24.7" lengthAdjust="spacingAndGlyphs">(0%)</text>
<line x1="590.9" y1="216" x2="602.2" y2="216" stroke="#d02a2a" stroke-width="1.6"/>
<text x="608.8" y="220.2" font-size="10.5" text-anchor="start" textLength="32.2" lengthAdjust="spacingAndGlyphs">Doping</text>
<text x="644.6" y="220.2" font-size="10.5" text-anchor="start" textLength="24.7" lengthAdjust="spacingAndGlyphs">(6%)</text>
<line x1="590.9" y1="228.8" x2="602.2" y2="228.8" stroke="#3ee03e" stroke-width="1.6"/>
<text x="608.8" y="233.0" font-size="10.5" text-anchor="start" textLength="32.2" lengthAdjust="spacingAndGlyphs">Doping</text>
<text x="644.6" y="233.0" font-size="10.5" text-anchor="start" textLength="29.8" lengthAdjust="spacingAndGlyphs">(11%)</text>
<line x1="590.9" y1="241.5" x2="602.2" y2="241.5" stroke="#2424b4" stroke-width="1.6"/>
<text x="608.8" y="245.7" font-size="10.5" text-anchor="start" textLength="32.2" lengthAdjust="spacingAndGlyphs">Doping</text>
<text x="644.6" y="245.7" font-size="10.5" text-anchor="start" textLength="29.8" lengthAdjust="spacingAndGlyphs">(17%)</text>
<polyline points="158.00,489.8 158.50,489.8 159.00,489.8 159.50,489.8 160.00,489.8 160.50,489.7 161.00,489.7 161.50,489.7 162.00,489.7 162.50,489.7 163.00,489.7 163.50,489.7 164.00,489.7 164.50,489.6 165.00,489.6 165.50,489.6 166.00,489.6 166.50,489.6 167.00,489.6 167.50,489.6 168.00,489.5 168.50,489.5 169.00,489.5 169.50,489.5 170.00,489.5 170.50,489.5 171.00,489.5 171.50,489.4 172.00,489.4 172.50,489.4 173.00,489.4 173.50,489.4 174.00,489.4 174.50,489.3 175.00,489.3 175.50,489.3 176.00,489.3 176.50,489.2 177.00,489.2 177.50,489.2 178.00,489.2 178.50,489.2 179.00,489.1 179.50,489.1 180.00,489.1 180.50,489.1 181.00,489.0 181.50,489.0 182.00,489.0 182.50,489.0 183.00,489.0 183.50,488.9 184.00,488.9 184.50,488.9 185.00,488.9 185.50,488.9 186.00,488.8 186.50,488.8 187.00,488.8 187.50,488.8 188.00,488.8 188.50,488.8 189.00,488.8 189.50,488.7 190.00,488.7 190.50,488.7 191.00,488.7 191.50,488.7 192.00,488.7 192.50,488.7 193.00,488.7 193.50,488.7 194.00,488.7 194.50,488.7 195.00,488.6 195.50,488.6 196.00,488.6 196.50,488.6 197.00,488.6 197.50,488.6 198.00,488.6 198.50,488.6 199.00,488.5 199.50,488.5 200.00,488.5 200.50,488.5 201.00,488.4 201.50,488.4 202.00,488.4 202.50,488.3 203.00,488.3 203.50,488.2 204.00,488.2 204.50,488.1 205.00,488.1 205.50,488.0 206.00,488.0 206.50,487.9 207.00,487.9 207.50,487.8 208.00,487.8 208.50,487.7 209.00,487.7 209.50,487.6 210.00,487.6 210.50,487.5 211.00,487.5 211.50,487.4 212.00,487.4 212.50,487.4 213.00,487.3 213.50,487.3 214.00,487.2 214.50,487.2 215.00,487.2 215.50,487.1 216.00,487.1 216.50,487.0 217.00,487.0 217.50,486.9 218.00,486.8 218.50,486.8 219.00,486.7 219.50,486.5 220.00,486.4 220.50,486.3 221.00,486.1 221.50,485.9 222.00,485.8 222.50,485.6 223.00,485.4 223.50,485.2 224.00,484.9 224.50,484.7 225.00,484.5 225.50,484.2 226.00,483.9 226.50,483.6 227.00,483.2 227.50,482.9 228.00,482.5 228.50,482.2 229.00,481.8 229.50,481.4 230.00,481.0 230.50,480.7 231.00,480.3 231.50,479.9 232.00,479.5 232.50,479.1 233.00,478.7 233.50,478.3 234.00,477.8 234.50,477.4 235.00,476.9 235.50,476.4 236.00,475.9 236.50,475.4 237.00,474.9 237.50,474.3 238.00,473.7 238.50,473.1 239.00,472.5 239.50,471.8 240.00,471.1 240.50,470.3 241.00,469.4 241.50,468.5 242.00,467.4 242.50,466.2 243.00,464.9 243.50,463.5 244.00,462.0 244.50,460.2 245.00,458.2 245.50,456.1 246.00,454.3 246.50,452.4 247.00,450.7 247.50,449.1 248.00,447.7 248.50,446.3 249.00,444.8 249.50,443.0 250.00,440.9 250.50,438.7 251.00,436.4 251.50,434.2 252.00,431.8 252.50,429.4 253.00,427.0 253.50,424.9 254.00,423.0 254.50,421.3 255.00,420.0 255.50,419.1 256.00,418.6 256.50,418.6 257.00,419.3 257.50,420.2 258.00,421.9 258.50,424.1 259.00,426.5 259.50,429.5 260.00,432.5 260.50,435.1 261.00,437.2 261.50,439.1 262.00,441.5 262.50,444.6 263.00,448.0 263.50,451.3 264.00,454.6 264.50,457.8 265.00,460.6 265.50,463.2 266.00,465.6 266.50,467.8 267.00,469.5 267.50,471.2 268.00,472.6 268.50,474.0 269.00,475.2 269.50,476.2 270.00,477.2 270.50,478.1 271.00,478.9 271.50,479.7 272.00,480.4 272.50,481.0 273.00,481.5 273.50,481.9 274.00,482.3 274.50,482.7 275.00,483.1 275.50,483.4 276.00,483.7 276.50,484.0 277.00,484.2 277.50,484.5 278.00,484.7 278.50,484.9 279.00,485.1 279.50,485.3 280.00,485.5 280.50,485.7 281.00,485.9 281.50,486.1 282.00,486.2 282.50,486.4 283.00,486.5 283.50,486.7 284.00,486.8 284.50,487.0 285.00,487.1 285.50,487.2 286.00,487.3 286.50,487.3 287.00,487.4 287.50,487.5 288.00,487.6 288.50,487.6 289.00,487.7 289.50,487.8 290.00,487.8 290.50,487.9 291.00,487.9 291.50,488.0 292.00,488.0 292.50,488.1 293.00,488.1 293.50,488.2 294.00,488.2 294.50,488.3 295.00,488.3 295.50,488.3 296.00,488.4 296.50,488.4 297.00,488.5 297.50,488.5 298.00,488.5 298.50,488.6 299.00,488.6 299.50,488.6 300.00,488.7 300.50,488.7 301.00,488.7 301.50,488.8 302.00,488.8 302.50,488.8 303.00,488.9 303.50,488.9 304.00,488.9 304.50,488.9 305.00,489.0 305.50,489.0 306.00,489.0 306.50,489.0 307.00,489.1 307.50,489.1 308.00,489.1 308.50,489.1 309.00,489.2 309.50,489.2 310.00,489.2 310.50,489.2 311.00,489.2 311.50,489.3 312.00,489.3 312.50,489.3 313.00,489.3 313.50,489.3 314.00,489.3 314.50,489.4 315.00,489.4 315.50,489.4 316.00,489.4 316.50,489.4 317.00,489.5 317.50,489.5 318.00,489.5 318.50,489.5 319.00,489.5 319.50,489.5 320.00,489.5 320.50,489.6 321.00,489.6 321.50,489.6 322.00,489.6 322.50,489.6 323.00,489.6 323.50,489.6 324.00,489.6 324.50,489.6 325.00,489.7 325.50,489.7 326.00,489.7 326.50,489.7 327.00,489.7 327.50,489.7 328.00,489.7" fill="none" stroke="#2424b4" stroke-width="1.25" stroke-linejoin="round"/>
<polyline points="158.00,489.9 158.50,489.9 159.00,489.9 159.50,489.9 160.00,489.9 160.50,489.9 161.00,489.9 161.50,489.9 162.00,489.9 162.50,489.9 163.00,489.9 163.50,489.9 164.00,489.9 164.50,489.9 165.00,489.9 165.50,489.8 166.00,489.8 166.50,489.8 167.00,489.8 167.50,489.8 168.00,489.8 168.50,489.8 169.00,489.8 169.50,489.8 170.00,489.8 170.50,489.8 171.00,489.8 171.50,489.8 172.00,489.7 172.50,489.7 173.00,489.7 173.50,489.7 174.00,489.7 174.50,489.7 175.00,489.7 175.50,489.7 176.00,489.7 176.50,489.7 177.00,489.7 177.50,489.6 178.00,489.6 178.50,489.6 179.00,489.6 179.50,489.6 180.00,489.6 180.50,489.6 181.00,489.6 181.50,489.6 182.00,489.6 182.50,489.5 183.00,489.5 183.50,489.5 184.00,489.5 184.50,489.5 185.00,489.5 185.50,489.5 186.00,489.4 186.50,489.4 187.00,489.4 187.50,489.4 188.00,489.4 188.50,489.4 189.00,489.4 189.50,489.3 190.00,489.3 190.50,489.3 191.00,489.3 191.50,489.3 192.00,489.2 192.50,489.2 193.00,489.2 193.50,489.2 194.00,489.2 194.50,489.1 195.00,489.1 195.50,489.1 196.00,489.1 196.50,489.1 197.00,489.0 197.50,489.0 198.00,489.0 198.50,489.0 199.00,488.9 199.50,488.9 200.00,488.9 200.50,488.9 201.00,488.9 201.50,488.8 202.00,488.8 202.50,488.8 203.00,488.7 203.50,488.7 204.00,488.7 204.50,488.6 205.00,488.6 205.50,488.6 206.00,488.5 206.50,488.5 207.00,488.5 207.50,488.4 208.00,488.4 208.50,488.4 209.00,488.3 209.50,488.3 210.00,488.3 210.50,488.2 211.00,488.2 211.50,488.2 212.00,488.1 212.50,488.1 213.00,488.1 213.50,488.1 214.00,488.0 214.50,488.0 215.00,488.0 215.50,487.9 216.00,487.9 216.50,487.9 217.00,487.9 217.50,487.8 218.00,487.8 218.50,487.8 219.00,487.7 219.50,487.7 220.00,487.7 220.50,487.6 221.00,487.6 221.50,487.5 222.00,487.5 222.50,487.4 223.00,487.4 223.50,487.3 224.00,487.2 224.50,487.1 225.00,487.0 225.50,486.9 226.00,486.8 226.50,486.7 227.00,486.6 227.50,486.5 228.00,486.3 228.50,486.2 229.00,486.0 229.50,485.9 230.00,485.7 230.50,485.5 231.00,485.3 231.50,485.1 232.00,484.9 232.50,484.6 233.00,484.4 233.50,484.2 234.00,484.0 234.50,483.7 235.00,483.5 235.50,483.3 236.00,483.0 236.50,482.8 237.00,482.5 237.50,482.3 238.00,482.0 238.50,481.7 239.00,481.4 239.50,481.1 240.00,480.8 240.50,480.5 241.00,480.2 241.50,479.9 242.00,479.5 242.50,479.2 243.00,478.9 243.50,478.5 244.00,478.2 244.50,477.8 245.00,477.4 245.50,477.0 246.00,476.5 246.50,476.0 247.00,475.5 247.50,474.9 248.00,474.3 248.50,473.5 249.00,472.6 249.50,471.7 250.00,470.8 250.50,469.9 251.00,469.0 251.50,468.2 252.00,467.4 252.50,466.6 253.00,465.8 253.50,465.0 254.00,464.1 254.50,463.2 255.00,462.2 255.50,461.1 256.00,460.0 256.50,458.6 257.00,457.0 257.50,455.2 258.00,453.3 258.50,451.3 259.00,449.3 259.50,447.1 260.00,444.7 260.50,442.1 261.00,439.6 261.50,437.1 262.00,434.5 262.50,431.8 263.00,429.2 263.50,426.6 264.00,423.7 264.50,421.3 265.00,419.8 265.50,418.7 266.00,418.6 266.50,419.6 267.00,421.0 267.50,422.7 268.00,425.0 268.50,427.7 269.00,431.1 269.50,434.6 270.00,437.9 270.50,441.5 271.00,445.7 271.50,449.4 272.00,452.6 272.50,455.7 273.00,458.5 273.50,461.2 274.00,463.9 274.50,466.2 275.00,468.3 275.50,470.1 276.00,471.9 276.50,473.4 277.00,474.8 277.50,476.0 278.00,477.0 278.50,478.0 279.00,478.9 279.50,479.7 280.00,480.5 280.50,481.1 281.00,481.7 281.50,482.2 282.00,482.6 282.50,483.1 283.00,483.5 283.50,483.8 284.00,484.2 284.50,484.5 285.00,484.8 285.50,485.0 286.00,485.2 286.50,485.4 287.00,485.6 287.50,485.7 288.00,485.9 288.50,486.0 289.00,486.1 289.50,486.2 290.00,486.3 290.50,486.4 291.00,486.5 291.50,486.6 292.00,486.7 292.50,486.7 293.00,486.8 293.50,486.9 294.00,486.9 294.50,487.0 295.00,487.1 295.50,487.1 296.00,487.2 296.50,487.2 297.00,487.3 297.50,487.4 298.00,487.4 298.50,487.5 299.00,487.5 299.50,487.6 300.00,487.6 300.50,487.7 301.00,487.7 301.50,487.8 302.00,487.9 302.50,487.9 303.00,488.0 303.50,488.0 304.00,488.1 304.50,488.1 305.00,488.2 305.50,488.2 306.00,488.3 306.50,488.4 307.00,488.4 307.50,488.5 308.00,488.5 308.50,488.5 309.00,488.6 309.50,488.6 310.00,488.7 310.50,488.7 311.00,488.8 311.50,488.8 312.00,488.8 312.50,488.9 313.00,488.9 313.50,488.9 314.00,489.0 314.50,489.0 315.00,489.0 315.50,489.0 316.00,489.1 316.50,489.1 317.00,489.1 317.50,489.2 318.00,489.2 318.50,489.2 319.00,489.3 319.50,489.3 320.00,489.3 320.50,489.3 321.00,489.4 321.50,489.4 322.00,489.4 322.50,489.4 323.00,489.4 323.50,489.5 324.00,489.5 324.50,489.5 325.00,489.5 325.50,489.5 326.00,489.6 326.50,489.6 327.00,489.6 327.50,489.6 328.00,489.6" fill="none" stroke="#d02a2a" stroke-width="1.25" stroke-linejoin="round"/>
<polyline points="158.00,490.0 158.50,490.0 159.00,490.0 159.50,490.0 160.00,490.0 160.50,490.0 161.00,490.0 161.50,490.0 162.00,490.0 162.50,490.0 163.00,490.0 163.50,490.0 164.00,490.0 164.50,490.0 165.00,490.0 165.50,490.0 166.00,490.0 166.50,490.0 167.00,490.0 167.50,490.0 168.00,490.0 168.50,490.0 169.00,490.0 169.50,490.0 170.00,490.0 170.50,490.0 171.00,490.0 171.50,490.0 172.00,490.0 172.50,490.0 173.00,489.9 173.50,489.9 174.00,489.9 174.50,489.9 175.00,489.9 175.50,489.9 176.00,489.9 176.50,489.9 177.00,489.9 177.50,489.9 178.00,489.9 178.50,489.9 179.00,489.9 179.50,489.9 180.00,489.9 180.50,489.9 181.00,489.9 181.50,489.9 182.00,489.9 182.50,489.9 183.00,489.9 183.50,489.9 184.00,489.9 184.50,489.9 185.00,489.9 185.50,489.8 186.00,489.8 186.50,489.8 187.00,489.8 187.50,489.8 188.00,489.8 188.50,489.8 189.00,489.8 189.50,489.8 190.00,489.8 190.50,489.8 191.00,489.8 191.50,489.8 192.00,489.8 192.50,489.8 193.00,489.8 193.50,489.8 194.00,489.8 194.50,489.8 195.00,489.8 195.50,489.7 196.00,489.7 196.50,489.7 197.00,489.7 197.50,489.7 198.00,489.7 198.50,489.7 199.00,489.7 199.50,489.7 200.00,489.7 200.50,489.7 201.00,489.7 201.50,489.7 202.00,489.7 202.50,489.7 203.00,489.7 203.50,489.7 204.00,489.7 204.50,489.6 205.00,489.6 205.50,489.6 206.00,489.6 206.50,489.6 207.00,489.6 207.50,489.6 208.00,489.6 208.50,489.6 209.00,489.6 209.50,489.6 210.00,489.6 210.50,489.5 211.00,489.5 211.50,489.5 212.00,489.5 212.50,489.5 213.00,489.5 213.50,489.5 214.00,489.5 214.50,489.5 215.00,489.5 215.50,489.5 216.00,489.4 216.50,489.4 217.00,489.4 217.50,489.4 218.00,489.4 218.50,489.4 219.00,489.4 219.50,489.4 220.00,489.3 220.50,489.3 221.00,489.3 221.50,489.3 222.00,489.3 222.50,489.3 223.00,489.3 223.50,489.3 224.00,489.2 224.50,489.2 225.00,489.2 225.50,489.2 226.00,489.2 226.50,489.2 227.00,489.1 227.50,489.1 228.00,489.1 228.50,489.1 229.00,489.1 229.50,489.1 230.00,489.0 230.50,489.0 231.00,489.0 231.50,489.0 232.00,488.9 232.50,488.9 233.00,488.9 233.50,488.9 234.00,488.8 234.50,488.8 235.00,488.8 235.50,488.8 236.00,488.7 236.50,488.7 237.00,488.7 237.50,488.6 238.00,488.6 238.50,488.6 239.00,488.5 239.50,488.5 240.00,488.4 240.50,488.4 241.00,488.3 241.50,488.3 242.00,488.2 242.50,488.1 243.00,488.1 243.50,488.0 244.00,487.9 244.50,487.8 245.00,487.8 245.50,487.7 246.00,487.6 246.50,487.5 247.00,487.3 247.50,487.2 248.00,487.0 248.50,486.9 249.00,486.7 249.50,486.5 250.00,486.3 250.50,486.1 251.00,485.8 251.50,485.4 252.00,485.1 252.50,484.7 253.00,484.4 253.50,484.1 254.00,483.8 254.50,483.4 255.00,483.1 255.50,482.8 256.00,482.5 256.50,482.2 257.00,482.0 257.50,481.7 258.00,481.4 258.50,481.1 259.00,480.9 259.50,480.7 260.00,480.4 260.50,480.2 261.00,479.9 261.50,479.7 262.00,479.4 262.50,479.1 263.00,478.8 263.50,478.5 264.00,478.1 264.50,477.7 265.00,477.3 265.50,476.8 266.00,476.2 266.50,475.4 267.00,474.6 267.50,473.7 268.00,472.6 268.50,471.3 269.00,470.0 269.50,468.7 270.00,467.5 270.50,466.3 271.00,465.0 271.50,463.7 272.00,462.3 272.50,460.8 273.00,459.1 273.50,457.3 274.00,455.2 274.50,453.0 275.00,450.9 275.50,448.8 276.00,446.7 276.50,444.4 277.00,441.6 277.50,438.0 278.00,434.8 278.50,431.8 279.00,429.0 279.50,426.4 280.00,424.1 280.50,421.9 281.00,420.2 281.50,418.9 282.00,418.5 282.50,419.3 283.00,420.5 283.50,422.0 284.00,424.1 284.50,426.5 285.00,429.3 285.50,432.6 286.00,436.0 286.50,440.1 287.00,444.4 287.50,448.5 288.00,452.6 288.50,456.5 289.00,460.2 289.50,463.9 290.00,467.1 290.50,469.3 291.00,470.9 291.50,472.4 292.00,473.6 292.50,474.7 293.00,475.7 293.50,476.7 294.00,477.6 294.50,478.4 295.00,479.2 295.50,479.9 296.00,480.6 296.50,481.2 297.00,481.7 297.50,482.2 298.00,482.7 298.50,483.1 299.00,483.5 299.50,483.9 300.00,484.3 300.50,484.6 301.00,484.9 301.50,485.2 302.00,485.4 302.50,485.6 303.00,485.9 303.50,486.1 304.00,486.3 304.50,486.5 305.00,486.6 305.50,486.8 306.00,487.0 306.50,487.1 307.00,487.2 307.50,487.4 308.00,487.5 308.50,487.6 309.00,487.7 309.50,487.8 310.00,487.9 310.50,488.0 311.00,488.1 311.50,488.1 312.00,488.2 312.50,488.3 313.00,488.3 313.50,488.4 314.00,488.4 314.50,488.5 315.00,488.6 315.50,488.6 316.00,488.7 316.50,488.7 317.00,488.8 317.50,488.8 318.00,488.9 318.50,488.9 319.00,489.0 319.50,489.0 320.00,489.1 320.50,489.1 321.00,489.2 321.50,489.2 322.00,489.3 322.50,489.3 323.00,489.3 323.50,489.4 324.00,489.4 324.50,489.4 325.00,489.4 325.50,489.5 326.00,489.5 326.50,489.5 327.00,489.5 327.50,489.5 328.00,489.5" fill="none" stroke="#111111" stroke-width="1.25" stroke-linejoin="round"/>
<rect x="157.5" y="382.5" width="171.0" height="108.0" fill="none" stroke="#000" stroke-width="1"/>
<line x1="153.0" y1="490.5" x2="157.5" y2="490.5" stroke="#000" stroke-width="1"/>
<text x="152.2" y="495.3" font-size="12" text-anchor="end">0.0</text>
<line x1="153.0" y1="454.5" x2="157.5" y2="454.5" stroke="#000" stroke-width="1"/>
<text x="152.2" y="459.3" font-size="12" text-anchor="end">0.5</text>
<line x1="153.0" y1="418.5" x2="157.5" y2="418.5" stroke="#000" stroke-width="1"/>
<text x="152.2" y="423.3" font-size="12" text-anchor="end">1.0</text>
<line x1="153.0" y1="382.5" x2="157.5" y2="382.5" stroke="#000" stroke-width="1"/>
<text x="152.2" y="387.3" font-size="12" text-anchor="end">1.5</text>
<line x1="157.5" y1="490.5" x2="157.5" y2="495.0" stroke="#000" stroke-width="1"/>
<text x="157.5" y="509.5" font-size="12" text-anchor="middle">-15</text>
<line x1="200.25" y1="490.5" x2="200.25" y2="495.0" stroke="#000" stroke-width="1"/>
<text x="200.25" y="509.5" font-size="12" text-anchor="middle">-10</text>
<line x1="243.0" y1="490.5" x2="243.0" y2="495.0" stroke="#000" stroke-width="1"/>
<text x="243.0" y="509.5" font-size="12" text-anchor="middle">-5</text>
<line x1="285.75" y1="490.5" x2="285.75" y2="495.0" stroke="#000" stroke-width="1"/>
<text x="285.75" y="509.5" font-size="12" text-anchor="middle">0</text>
<line x1="328.5" y1="490.5" x2="328.5" y2="495.0" stroke="#000" stroke-width="1"/>
<text x="328.5" y="509.5" font-size="12" text-anchor="middle">5</text>
<text x="243.0" y="525.8" font-size="12" text-anchor="middle" textLength="64" lengthAdjust="spacingAndGlyphs">Energy (eV)</text>
<text x="0" y="0" font-size="12" text-anchor="middle" textLength="106.5" lengthAdjust="spacingAndGlyphs" transform="translate(130.0,433.8) rotate(-90)">Intensity (arb.units)</text>
<text x="278.0" y="379.2" font-size="9" textLength="45.7" lengthAdjust="spacingAndGlyphs">Cl-Emission</text>
<rect x="307.5" y="387.5" width="17.0" height="18.0" fill="#fff" stroke="#111" stroke-width="1"/>
<text x="309.45" y="401.3" font-size="12" text-anchor="start" textLength="13.1" lengthAdjust="spacingAndGlyphs">(f)</text>
<line x1="163.8" y1="389.3" x2="175.5" y2="389.3" stroke="#111111" stroke-width="1.6"/>
<text x="181.3" y="393.5" font-size="10.5" text-anchor="start" textLength="32.2" lengthAdjust="spacingAndGlyphs">Doping</text>
<text x="217.1" y="393.5" font-size="10.5" text-anchor="start" textLength="24.7" lengthAdjust="spacingAndGlyphs">(0%)</text>
<line x1="163.8" y1="402.1" x2="175.5" y2="402.1" stroke="#d02a2a" stroke-width="1.6"/>
<text x="181.3" y="406.3" font-size="10.5" text-anchor="start" textLength="32.2" lengthAdjust="spacingAndGlyphs">Doping</text>
<text x="217.1" y="406.3" font-size="10.5" text-anchor="start" textLength="24.7" lengthAdjust="spacingAndGlyphs">(6%)</text>
<line x1="163.8" y1="415.3" x2="175.5" y2="415.3" stroke="#3ee03e" stroke-width="1.6"/>
<text x="181.3" y="419.5" font-size="10.5" text-anchor="start" textLength="32.2" lengthAdjust="spacingAndGlyphs">Doping</text>
<text x="217.1" y="419.5" font-size="10.5" text-anchor="start" textLength="29.8" lengthAdjust="spacingAndGlyphs">(11%)</text>
<line x1="163.8" y1="428" x2="175.5" y2="428" stroke="#2424b4" stroke-width="1.6"/>
<text x="181.3" y="432.2" font-size="10.5" text-anchor="start" textLength="32.2" lengthAdjust="spacingAndGlyphs">Doping</text>
<text x="217.1" y="432.2" font-size="10.5" text-anchor="start" textLength="29.8" lengthAdjust="spacingAndGlyphs">(17%)</text>
<polyline points="402.00,489.4 402.50,489.4 403.00,489.4 403.50,489.4 404.00,489.4 404.50,489.4 405.00,489.4 405.50,489.3 406.00,489.3 406.50,489.3 407.00,489.3 407.50,489.3 408.00,489.3 408.50,489.3 409.00,489.2 409.50,489.2 410.00,489.2 410.50,489.2 411.00,489.2 411.50,489.2 412.00,489.1 412.50,489.1 413.00,489.1 413.50,489.1 414.00,489.1 414.50,489.0 415.00,489.0 415.50,489.0 416.00,489.0 416.50,489.0 417.00,488.9 417.50,488.9 418.00,488.9 418.50,488.9 419.00,488.8 419.50,488.8 420.00,488.8 420.50,488.8 421.00,488.7 421.50,488.7 422.00,488.7 422.50,488.7 423.00,488.6 423.50,488.6 424.00,488.6 424.50,488.5 425.00,488.5 425.50,488.5 426.00,488.4 426.50,488.4 427.00,488.4 427.50,488.3 428.00,488.3 428.50,488.3 429.00,488.2 429.50,488.2 430.00,488.1 430.50,488.1 431.00,488.1 431.50,488.0 432.00,488.0 432.50,487.9 433.00,487.9 433.50,487.8 434.00,487.8 434.50,487.7 435.00,487.7 435.50,487.6 436.00,487.6 436.50,487.5 437.00,487.5 437.50,487.4 438.00,487.3 438.50,487.3 439.00,487.2 439.50,487.1 440.00,487.1 440.50,487.0 441.00,486.9 441.50,486.8 442.00,486.7 442.50,486.7 443.00,486.6 443.50,486.5 444.00,486.4 444.50,486.3 445.00,486.2 445.50,486.1 446.00,486.0 446.50,485.9 447.00,485.8 447.50,485.7 448.00,485.5 448.50,485.4 449.00,485.3 449.50,485.1 450.00,485.0 450.50,484.9 451.00,484.7 451.50,484.6 452.00,484.4 452.50,484.2 453.00,484.0 453.50,483.9 454.00,483.7 454.50,483.5 455.00,483.3 455.50,483.0 456.00,482.8 456.50,482.6 457.00,482.3 457.50,482.1 458.00,481.8 458.50,481.5 459.00,481.2 459.50,480.9 460.00,480.6 460.50,480.2 461.00,479.9 461.50,479.5 462.00,479.1 462.50,478.7 463.00,478.2 463.50,477.8 464.00,477.3 464.50,476.8 465.00,476.2 465.50,475.6 466.00,475.0 466.50,474.4 467.00,473.7 467.50,473.0 468.00,472.2 468.50,471.4 469.00,470.6 469.50,469.7 470.00,468.7 470.50,467.7 471.00,466.7 471.50,465.5 472.00,464.3 472.50,463.1 473.00,461.7 473.50,460.3 474.00,458.8 474.50,457.2 475.00,455.5 475.50,453.8 476.00,451.9 476.50,450.0 477.00,448.0 477.50,445.9 478.00,443.8 478.50,441.6 479.00,439.3 479.50,437.0 480.00,434.7 480.50,432.4 481.00,430.2 481.50,428.1 482.00,426.1 482.50,424.2 483.00,422.6 483.50,421.2 484.00,420.0 484.50,419.2 485.00,418.7 485.50,418.5 486.00,418.7 486.50,419.1 487.00,419.9 487.50,420.9 488.00,422.2 488.50,423.7 489.00,425.3 489.50,427.2 490.00,429.2 490.50,431.2 491.00,433.3 491.50,435.5 492.00,437.6 492.50,439.8 493.00,441.9 493.50,444.0 494.00,446.0 494.50,448.0 495.00,449.9 495.50,451.7 496.00,453.5 496.50,455.2 497.00,456.8 497.50,458.3 498.00,459.7 498.50,461.1 499.00,462.4 499.50,463.6 500.00,464.8 500.50,465.9 501.00,467.0 501.50,468.0 502.00,468.9 502.50,469.8 503.00,470.6 503.50,471.4 504.00,472.2 504.50,472.9 505.00,473.6 505.50,474.2 506.00,474.9 506.50,475.4 507.00,476.0 507.50,476.5 508.00,477.0 508.50,477.5 509.00,477.9 509.50,478.4 510.00,478.8 510.50,479.2 511.00,479.5 511.50,479.9 512.00,480.2 512.50,480.6 513.00,480.9 513.50,481.2 514.00,481.5 514.50,481.7 515.00,482.0 515.50,482.2 516.00,482.5 516.50,482.7 517.00,482.9 517.50,483.1 518.00,483.3 518.50,483.5 519.00,483.7 519.50,483.9 520.00,484.1 520.50,484.2 521.00,484.4 521.50,484.6 522.00,484.7 522.50,484.8 523.00,485.0 523.50,485.1 524.00,485.2 524.50,485.4 525.00,485.5 525.50,485.6 526.00,485.7 526.50,485.8 527.00,485.9 527.50,486.0 528.00,486.1 528.50,486.2 529.00,486.3 529.50,486.4 530.00,486.5 530.50,486.6 531.00,486.7 531.50,486.7 532.00,486.8 532.50,486.9 533.00,487.0 533.50,487.0 534.00,487.1 534.50,487.2 535.00,487.2 535.50,487.3 536.00,487.4 536.50,487.4 537.00,487.5 537.50,487.5 538.00,487.6 538.50,487.6 539.00,487.7 539.50,487.7 540.00,487.8 540.50,487.8 541.00,487.9 541.50,487.9 542.00,488.0 542.50,488.0 543.00,488.0 543.50,488.1 544.00,488.1 544.50,488.2 545.00,488.2 545.50,488.2 546.00,488.3 546.50,488.3 547.00,488.3 547.50,488.4 548.00,488.4 548.50,488.4 549.00,488.5 549.50,488.5 550.00,488.5 550.50,488.6 551.00,488.6 551.50,488.6 552.00,488.6 552.50,488.7 553.00,488.7 553.50,488.7 554.00,488.8 554.50,488.8 555.00,488.8 555.50,488.8 556.00,488.8 556.50,488.9 557.00,488.9 557.50,488.9 558.00,488.9 558.50,489.0 559.00,489.0 559.50,489.0 560.00,489.0 560.50,489.0 561.00,489.1 561.50,489.1 562.00,489.1 562.50,489.1 563.00,489.1 563.50,489.1 564.00,489.2 564.50,489.2 565.00,489.2 565.50,489.2 566.00,489.2 566.50,489.2 567.00,489.3 567.50,489.3 568.00,489.3 568.50,489.3 569.00,489.3 569.50,489.3 570.00,489.3 570.50,489.4 571.00,489.4 571.50,489.4 572.00,489.4" fill="none" stroke="#2424b4" stroke-width="1.25" stroke-linejoin="round"/>
<polyline points="402.00,489.4 402.50,489.4 403.00,489.4 403.50,489.3 404.00,489.3 404.50,489.3 405.00,489.3 405.50,489.3 406.00,489.3 406.50,489.2 407.00,489.2 407.50,489.2 408.00,489.2 408.50,489.2 409.00,489.2 409.50,489.1 410.00,489.1 410.50,489.1 411.00,489.1 411.50,489.1 412.00,489.1 412.50,489.0 413.00,489.0 413.50,489.0 414.00,489.0 414.50,488.9 415.00,488.9 415.50,488.9 416.00,488.9 416.50,488.9 417.00,488.8 417.50,488.8 418.00,488.8 418.50,488.8 419.00,488.7 419.50,488.7 420.00,488.7 420.50,488.6 421.00,488.6 421.50,488.6 422.00,488.6 422.50,488.5 423.00,488.5 423.50,488.5 424.00,488.4 424.50,488.4 425.00,488.4 425.50,488.3 426.00,488.3 426.50,488.2 427.00,488.2 427.50,488.2 428.00,488.1 428.50,488.1 429.00,488.0 429.50,488.0 430.00,487.9 430.50,487.9 431.00,487.9 431.50,487.8 432.00,487.8 432.50,487.7 433.00,487.6 433.50,487.6 434.00,487.5 434.50,487.5 435.00,487.4 435.50,487.4 436.00,487.3 436.50,487.2 437.00,487.2 437.50,487.1 438.00,487.0 438.50,486.9 439.00,486.9 439.50,486.8 440.00,486.7 440.50,486.6 441.00,486.5 441.50,486.4 442.00,486.3 442.50,486.2 443.00,486.1 443.50,486.0 444.00,485.9 444.50,485.8 445.00,485.7 445.50,485.6 446.00,485.5 446.50,485.3 447.00,485.2 447.50,485.1 448.00,484.9 448.50,484.8 449.00,484.6 449.50,484.5 450.00,484.3 450.50,484.1 451.00,483.9 451.50,483.7 452.00,483.5 452.50,483.3 453.00,483.1 453.50,482.9 454.00,482.7 454.50,482.4 455.00,482.2 455.50,481.9 456.00,481.6 456.50,481.3 457.00,481.0 457.50,480.7 458.00,480.4 458.50,480.0 459.00,479.6 459.50,479.2 460.00,478.8 460.50,478.4 461.00,477.9 461.50,477.5 462.00,477.0 462.50,476.4 463.00,475.9 463.50,475.3 464.00,474.7 464.50,474.0 465.00,473.3 465.50,472.6 466.00,471.8 466.50,470.9 467.00,470.1 467.50,469.1 468.00,468.1 468.50,467.1 469.00,466.0 469.50,464.8 470.00,463.6 470.50,462.3 471.00,460.9 471.50,459.4 472.00,457.9 472.50,456.2 473.00,454.5 473.50,452.7 474.00,450.8 474.50,448.8 475.00,446.8 475.50,444.6 476.00,442.4 476.50,440.2 477.00,437.9 477.50,435.6 478.00,433.4 478.50,431.1 479.00,428.9 479.50,426.9 480.00,425.0 480.50,423.2 481.00,421.7 481.50,420.4 482.00,419.5 482.50,418.8 483.00,418.5 483.50,418.6 484.00,418.9 484.50,419.6 485.00,420.6 485.50,421.8 486.00,423.3 486.50,425.0 487.00,426.8 487.50,428.8 488.00,430.9 488.50,433.1 489.00,435.3 489.50,437.6 490.00,439.8 490.50,442.0 491.00,444.1 491.50,446.2 492.00,448.2 492.50,450.2 493.00,452.0 493.50,453.8 494.00,455.5 494.50,457.1 495.00,458.7 495.50,460.1 496.00,461.5 496.50,462.9 497.00,464.1 497.50,465.3 498.00,466.4 498.50,467.4 499.00,468.4 499.50,469.4 500.00,470.3 500.50,471.1 501.00,471.9 501.50,472.7 502.00,473.4 502.50,474.1 503.00,474.7 503.50,475.3 504.00,475.9 504.50,476.4 505.00,476.9 505.50,477.4 506.00,477.9 506.50,478.3 507.00,478.8 507.50,479.2 508.00,479.6 508.50,479.9 509.00,480.3 509.50,480.6 510.00,480.9 510.50,481.2 511.00,481.5 511.50,481.8 512.00,482.1 512.50,482.3 513.00,482.5 513.50,482.8 514.00,483.0 514.50,483.2 515.00,483.4 515.50,483.6 516.00,483.8 516.50,484.0 517.00,484.2 517.50,484.3 518.00,484.5 518.50,484.6 519.00,484.8 519.50,484.9 520.00,485.1 520.50,485.2 521.00,485.3 521.50,485.5 522.00,485.6 522.50,485.7 523.00,485.8 523.50,485.9 524.00,486.0 524.50,486.1 525.00,486.2 525.50,486.3 526.00,486.4 526.50,486.5 527.00,486.6 527.50,486.7 528.00,486.8 528.50,486.8 529.00,486.9 529.50,487.0 530.00,487.0 530.50,487.1 531.00,487.2 531.50,487.3 532.00,487.3 532.50,487.4 533.00,487.4 533.50,487.5 534.00,487.6 534.50,487.6 535.00,487.7 535.50,487.7 536.00,487.8 536.50,487.8 537.00,487.9 537.50,487.9 538.00,488.0 538.50,488.0 539.00,488.0 539.50,488.1 540.00,488.1 540.50,488.2 541.00,488.2 541.50,488.2 542.00,488.3 542.50,488.3 543.00,488.3 543.50,488.4 544.00,488.4 544.50,488.4 545.00,488.5 545.50,488.5 546.00,488.5 546.50,488.6 547.00,488.6 547.50,488.6 548.00,488.7 548.50,488.7 549.00,488.7 549.50,488.7 550.00,488.8 550.50,488.8 551.00,488.8 551.50,488.8 552.00,488.9 552.50,488.9 553.00,488.9 553.50,488.9 554.00,489.0 554.50,489.0 555.00,489.0 555.50,489.0 556.00,489.0 556.50,489.1 557.00,489.1 557.50,489.1 558.00,489.1 558.50,489.1 559.00,489.1 559.50,489.2 560.00,489.2 560.50,489.2 561.00,489.2 561.50,489.2 562.00,489.2 562.50,489.3 563.00,489.3 563.50,489.3 564.00,489.3 564.50,489.3 565.00,489.3 565.50,489.3 566.00,489.4 566.50,489.4 567.00,489.4 567.50,489.4 568.00,489.4 568.50,489.4 569.00,489.4 569.50,489.4 570.00,489.5 570.50,489.5 571.00,489.5 571.50,489.5 572.00,489.5" fill="none" stroke="#d02a2a" stroke-width="1.25" stroke-linejoin="round"/>
<rect x="401.8" y="382.5" width="170.7" height="108.0" fill="none" stroke="#000" stroke-width="1"/>
<line x1="397.3" y1="490.5" x2="401.8" y2="490.5" stroke="#000" stroke-width="1"/>
<text x="396.5" y="495.3" font-size="12" text-anchor="end">0.0</text>
<line x1="397.3" y1="454.5" x2="401.8" y2="454.5" stroke="#000" stroke-width="1"/>
<text x="396.5" y="459.3" font-size="12" text-anchor="end">0.5</text>
<line x1="397.3" y1="418.5" x2="401.8" y2="418.5" stroke="#000" stroke-width="1"/>
<text x="396.5" y="423.3" font-size="12" text-anchor="end">1.0</text>
<line x1="397.3" y1="382.5" x2="401.8" y2="382.5" stroke="#000" stroke-width="1"/>
<text x="396.5" y="387.3" font-size="12" text-anchor="end">1.5</text>
<line x1="401.8" y1="490.5" x2="401.8" y2="495.0" stroke="#000" stroke-width="1"/>
<text x="401.8" y="509.5" font-size="12" text-anchor="middle">-40</text>
<line x1="420.76666666666665" y1="490.5" x2="420.76666666666665" y2="495.0" stroke="#000" stroke-width="1"/>
<text x="420.77" y="509.5" font-size="12" text-anchor="middle">-35</text>
<line x1="439.73333333333335" y1="490.5" x2="439.73333333333335" y2="495.0" stroke="#000" stroke-width="1"/>
<text x="439.73" y="509.5" font-size="12" text-anchor="middle">-30</text>
<line x1="458.7" y1="490.5" x2="458.7" y2="495.0" stroke="#000" stroke-width="1"/>
<text x="458.7" y="509.5" font-size="12" text-anchor="middle">-25</text>
<line x1="477.6666666666667" y1="490.5" x2="477.6666666666667" y2="495.0" stroke="#000" stroke-width="1"/>
<text x="477.67" y="509.5" font-size="12" text-anchor="middle">-20</text>
<line x1="496.6333333333333" y1="490.5" x2="496.6333333333333" y2="495.0" stroke="#000" stroke-width="1"/>
<text x="496.63" y="509.5" font-size="12" text-anchor="middle">-15</text>
<line x1="515.6" y1="490.5" x2="515.6" y2="495.0" stroke="#000" stroke-width="1"/>
<text x="515.6" y="509.5" font-size="12" text-anchor="middle">-10</text>
<line x1="534.5666666666666" y1="490.5" x2="534.5666666666666" y2="495.0" stroke="#000" stroke-width="1"/>
<text x="534.57" y="509.5" font-size="12" text-anchor="middle">-5</text>
<line x1="553.5333333333333" y1="490.5" x2="553.5333333333333" y2="495.0" stroke="#000" stroke-width="1"/>
<text x="553.53" y="509.5" font-size="12" text-anchor="middle">0</text>
<line x1="572.5" y1="490.5" x2="572.5" y2="495.0" stroke="#000" stroke-width="1"/>
<text x="572.5" y="509.5" font-size="12" text-anchor="middle">5</text>
<text x="487.15" y="525.8" font-size="12" text-anchor="middle" textLength="64" lengthAdjust="spacingAndGlyphs">Energy (eV)</text>
<text x="0" y="0" font-size="12" text-anchor="middle" textLength="106.5" lengthAdjust="spacingAndGlyphs" transform="translate(374.3,433.8) rotate(-90)">Intensity (arb.units)</text>
<text x="522.1" y="379.2" font-size="9" textLength="46.8" lengthAdjust="spacingAndGlyphs">Sr-Emission</text>
<rect x="405.5" y="386.5" width="21.0" height="19.0" fill="#fff" stroke="#111" stroke-width="1"/>
<text x="408.25" y="401.0" font-size="12" text-anchor="start" textLength="16.4" lengthAdjust="spacingAndGlyphs">(h)</text>
<line x1="485.2" y1="391.5" x2="496.9" y2="391.5" stroke="#d02a2a" stroke-width="1.6"/>
<text x="503.1" y="395.7" font-size="10.5" text-anchor="start" textLength="32.2" lengthAdjust="spacingAndGlyphs">Doping</text>
<text x="538.9" y="395.7" font-size="10.5" text-anchor="start" textLength="24.7" lengthAdjust="spacingAndGlyphs">(6%)</text>
<line x1="485.2" y1="404.2" x2="496.9" y2="404.2" stroke="#3ee03e" stroke-width="1.6"/>
<text x="503.1" y="408.4" font-size="10.5" text-anchor="start" textLength="32.2" lengthAdjust="spacingAndGlyphs">Doping</text>
<text x="538.9" y="408.4" font-size="10.5" text-anchor="start" textLength="29.8" lengthAdjust="spacingAndGlyphs">(11%)</text>
<line x1="485.2" y1="416.7" x2="496.9" y2="416.7" stroke="#2424b4" stroke-width="1.6"/>
<text x="503.1" y="420.9" font-size="10.5" text-anchor="start" textLength="32.2" lengthAdjust="spacingAndGlyphs">Doping</text>
<text x="538.9" y="420.9" font-size="10.5" text-anchor="start" textLength="29.8" lengthAdjust="spacingAndGlyphs">(17%)</text>
</svg>
</body></html>
